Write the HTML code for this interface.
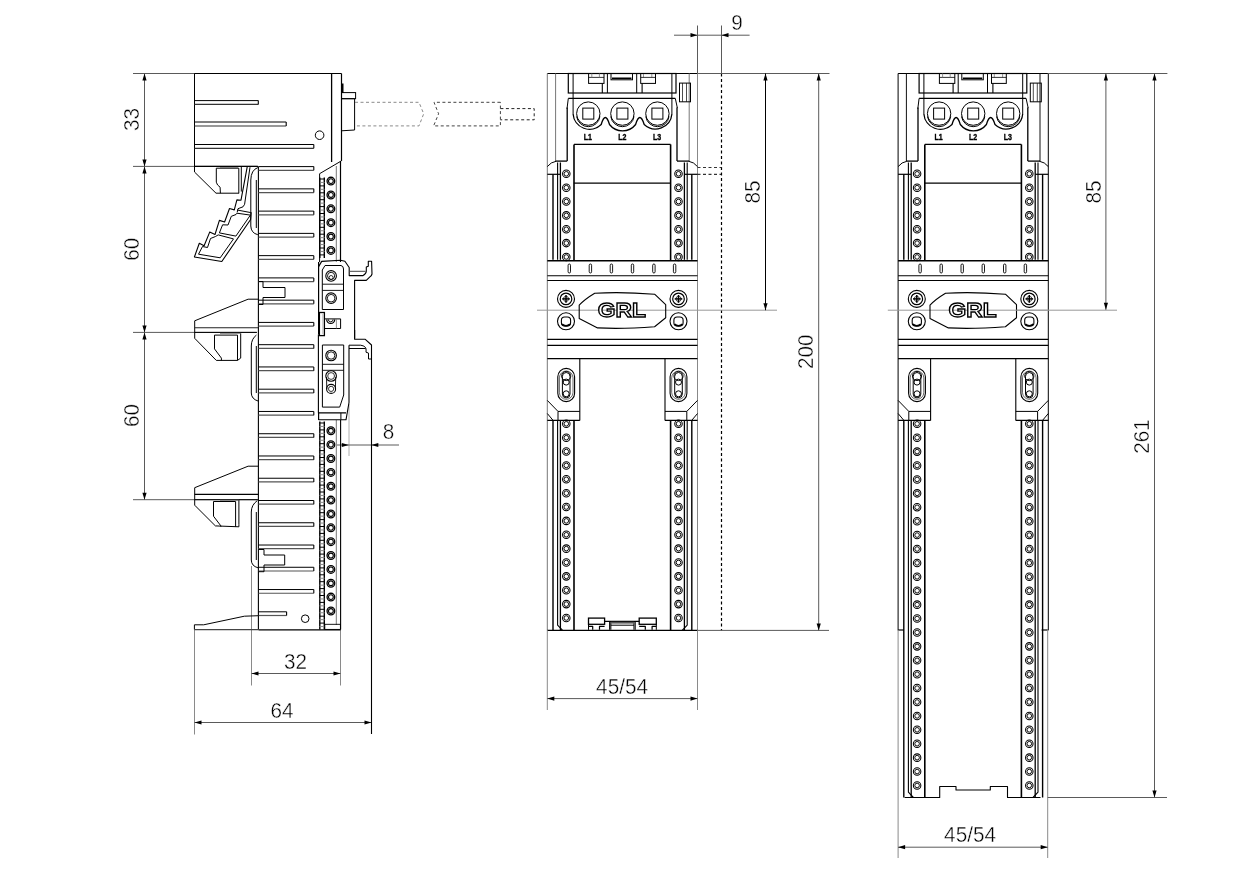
<!DOCTYPE html>
<html><head><meta charset="utf-8"><style>
html,body{margin:0;padding:0;background:#fff;width:1239px;height:869px;overflow:hidden}
svg{display:block}
text{font-family:"Liberation Sans",sans-serif}
svg{will-change:transform}
</style></head><body>
<svg width="1239" height="869" viewBox="0 0 1239 869">
<rect width="1239" height="869" fill="#fff"/>
<line x1="133" y1="73.5" x2="195" y2="73.5" stroke="#5a5a5a" stroke-width="1" />
<line x1="133" y1="166.4" x2="257" y2="166.4" stroke="#5a5a5a" stroke-width="1" />
<line x1="133" y1="332.4" x2="257" y2="332.4" stroke="#5a5a5a" stroke-width="1" />
<line x1="133" y1="499.7" x2="257" y2="499.7" stroke="#5a5a5a" stroke-width="1" />
<line x1="144.5" y1="73.5" x2="144.5" y2="499.7" stroke="#5a5a5a" stroke-width="1" />
<polygon points="144.5,73.5 142.4,80.5 146.6,80.5" fill="#000" stroke="none"/>
<polygon points="144.5,166.4 142.4,159.4 146.6,159.4" fill="#000" stroke="none"/>
<polygon points="144.5,166.4 142.4,173.4 146.6,173.4" fill="#000" stroke="none"/>
<polygon points="144.5,332.4 142.4,325.4 146.6,325.4" fill="#000" stroke="none"/>
<polygon points="144.5,332.4 142.4,339.4 146.6,339.4" fill="#000" stroke="none"/>
<polygon points="144.5,499.7 142.4,492.7 146.6,492.7" fill="#000" stroke="none"/>
<text x="0" y="0" font-size="21.9" text-anchor="middle" font-weight="normal" fill="#000" dominant-baseline="central" transform="translate(131.5 119.5) rotate(-90) scale(0.9452 1)" stroke="#fff" stroke-width="0.4">33</text>
<text x="0" y="0" font-size="21.9" text-anchor="middle" font-weight="normal" fill="#000" dominant-baseline="central" transform="translate(131.5 249.2) rotate(-90) scale(0.9452 1)" stroke="#fff" stroke-width="0.4">60</text>
<text x="0" y="0" font-size="21.9" text-anchor="middle" font-weight="normal" fill="#000" dominant-baseline="central" transform="translate(131.5 415.6) rotate(-90) scale(0.9452 1)" stroke="#fff" stroke-width="0.4">60</text>
<line x1="251.5" y1="566" x2="251.5" y2="685.5" stroke="#8a8a8a" stroke-width="1" />
<line x1="340.5" y1="630" x2="340.5" y2="685.5" stroke="#8a8a8a" stroke-width="1" />
<line x1="251.5" y1="673.5" x2="340.5" y2="673.5" stroke="#5a5a5a" stroke-width="1" />
<polygon points="251.5,673.5 258.5,671.4 258.5,675.6" fill="#000" stroke="none"/>
<polygon points="340.5,673.5 333.5,671.4 333.5,675.6" fill="#000" stroke="none"/>
<text x="0" y="0" font-size="21.9" text-anchor="middle" font-weight="normal" fill="#000" dominant-baseline="central" transform="translate(295.6 662.3) scale(0.9452 1)" stroke="#fff" stroke-width="0.4">32</text>
<line x1="194.5" y1="630" x2="194.5" y2="734.5" stroke="#8a8a8a" stroke-width="1" />
<line x1="194.5" y1="722.5" x2="371.5" y2="722.5" stroke="#5a5a5a" stroke-width="1" />
<polygon points="194.5,722.5 201.5,720.4 201.5,724.6" fill="#000" stroke="none"/>
<polygon points="371.5,722.5 364.5,720.4 364.5,724.6" fill="#000" stroke="none"/>
<text x="0" y="0" font-size="21.9" text-anchor="middle" font-weight="normal" fill="#000" dominant-baseline="central" transform="translate(282 710.7) scale(0.9452 1)" stroke="#fff" stroke-width="0.4">64</text>
<line x1="349" y1="404" x2="349" y2="456" stroke="#b0b0b0" stroke-width="1" />
<line x1="337" y1="445" x2="399" y2="445" stroke="#5a5a5a" stroke-width="1" />
<polygon points="348.8,445 341.8,442.9 341.8,447.1" fill="#000" stroke="none"/>
<polygon points="371.3,445 378.3,442.9 378.3,447.1" fill="#000" stroke="none"/>
<text x="0" y="0" font-size="21.9" text-anchor="middle" font-weight="normal" fill="#000" dominant-baseline="central" transform="translate(388.5 431.5) scale(0.9452 1)" stroke="#fff" stroke-width="0.4">8</text>
<line x1="194.5" y1="73.5" x2="341.5" y2="73.5" stroke="#000" stroke-width="1" />
<line x1="194.5" y1="73.5" x2="194.5" y2="172" stroke="#000" stroke-width="1" />
<line x1="341.5" y1="73.5" x2="341.5" y2="161" stroke="#000" stroke-width="1.2" />
<line x1="331.6" y1="73.5" x2="331.6" y2="162" stroke="#000" stroke-width="1.3" />
<line x1="194.5" y1="100.6" x2="258.3" y2="100.6" stroke="#000" stroke-width="1" />
<line x1="194.5" y1="104.4" x2="258.3" y2="104.4" stroke="#333" stroke-width="1.2" />
<line x1="258.3" y1="100.6" x2="258.3" y2="104.4" stroke="#000" stroke-width="1.1" />
<line x1="194.5" y1="122" x2="286.2" y2="122" stroke="#000" stroke-width="1" />
<line x1="194.5" y1="126" x2="286.2" y2="126" stroke="#333" stroke-width="1.2" />
<line x1="286.2" y1="122" x2="286.2" y2="126" stroke="#000" stroke-width="1.1" />
<line x1="194.5" y1="144.5" x2="313.8" y2="144.5" stroke="#000" stroke-width="1" />
<line x1="194.5" y1="148.3" x2="313.8" y2="148.3" stroke="#333" stroke-width="1.2" />
<line x1="313.8" y1="144.5" x2="313.8" y2="148.3" stroke="#000" stroke-width="1.1" />
<circle cx="319.6" cy="135.2" r="4.3" fill="none" stroke="#000" stroke-width="1" />
<rect x="341.5" y="84" width="1.5" height="8.5" rx="0" fill="#000" stroke="#000" stroke-width="1" />
<rect x="341.5" y="92.6" width="14.1" height="6.1" rx="0" fill="none" stroke="#000" stroke-width="1" />
<path d="M341.5,98.7 H354.6 V130 L341.5,130.8" fill="none" stroke="#000" stroke-width="1" stroke-linejoin="round" />
<path d="M355,102.3 H419 L423.7,113.8 L419,125.9 H355" fill="none" stroke="#8a8a8a" stroke-width="1" stroke-linejoin="round" stroke-dasharray="3,2.5"/>
<path d="M500.4,102.3 H434 L438.6,113.8 L433.6,125.9 H500.4 V102.3" fill="none" stroke="#444" stroke-width="1" stroke-linejoin="round" stroke-dasharray="3,2.5"/>
<path d="M500.4,108.6 H534.2 V119.8 H500.4" fill="none" stroke="#222" stroke-width="1" stroke-linejoin="round" stroke-dasharray="3,2.5"/>
<line x1="341.2" y1="161" x2="319.6" y2="173.7" stroke="#000" stroke-width="1" />
<line x1="340.5" y1="161" x2="340.5" y2="262" stroke="#000" stroke-width="1.2" />
<line x1="336.3" y1="166" x2="336.3" y2="262" stroke="#777" stroke-width="1" />
<line x1="258.4" y1="166.5" x2="258.4" y2="629.5" stroke="#000" stroke-width="1.1" />
<line x1="258.5" y1="166.6" x2="313.8" y2="166.6" stroke="#000" stroke-width="1" />
<line x1="258.5" y1="170.3" x2="313.8" y2="170.3" stroke="#555" stroke-width="1.2" />
<line x1="313.8" y1="166.6" x2="313.8" y2="170.3" stroke="#000" stroke-width="1.1" />
<line x1="258.5" y1="188.86" x2="313.8" y2="188.86" stroke="#000" stroke-width="1" />
<line x1="258.5" y1="192.56" x2="313.8" y2="192.56" stroke="#555" stroke-width="1.2" />
<line x1="313.8" y1="188.86" x2="313.8" y2="192.56" stroke="#000" stroke-width="1.1" />
<line x1="258.5" y1="211.12" x2="313.8" y2="211.12" stroke="#000" stroke-width="1" />
<line x1="258.5" y1="214.82" x2="313.8" y2="214.82" stroke="#555" stroke-width="1.2" />
<line x1="313.8" y1="211.12" x2="313.8" y2="214.82" stroke="#000" stroke-width="1.1" />
<line x1="258.5" y1="233.38" x2="313.8" y2="233.38" stroke="#000" stroke-width="1" />
<line x1="258.5" y1="237.08" x2="313.8" y2="237.08" stroke="#555" stroke-width="1.2" />
<line x1="313.8" y1="233.38" x2="313.8" y2="237.08" stroke="#000" stroke-width="1.1" />
<line x1="258.5" y1="255.64" x2="313.8" y2="255.64" stroke="#000" stroke-width="1" />
<line x1="258.5" y1="259.34" x2="313.8" y2="259.34" stroke="#555" stroke-width="1.2" />
<line x1="313.8" y1="255.64" x2="313.8" y2="259.34" stroke="#000" stroke-width="1.1" />
<line x1="258.5" y1="277.9" x2="313.8" y2="277.9" stroke="#000" stroke-width="1" />
<line x1="258.5" y1="281.6" x2="313.8" y2="281.6" stroke="#555" stroke-width="1.2" />
<line x1="313.8" y1="277.9" x2="313.8" y2="281.6" stroke="#000" stroke-width="1.1" />
<line x1="258.5" y1="300.16" x2="313.8" y2="300.16" stroke="#000" stroke-width="1" />
<line x1="258.5" y1="303.86" x2="313.8" y2="303.86" stroke="#555" stroke-width="1.2" />
<line x1="313.8" y1="300.16" x2="313.8" y2="303.86" stroke="#000" stroke-width="1.1" />
<line x1="258.5" y1="322.42" x2="313.8" y2="322.42" stroke="#000" stroke-width="1" />
<line x1="258.5" y1="326.12" x2="313.8" y2="326.12" stroke="#555" stroke-width="1.2" />
<line x1="313.8" y1="322.42" x2="313.8" y2="326.12" stroke="#000" stroke-width="1.1" />
<line x1="258.5" y1="344.68" x2="313.8" y2="344.68" stroke="#000" stroke-width="1" />
<line x1="258.5" y1="348.38" x2="313.8" y2="348.38" stroke="#555" stroke-width="1.2" />
<line x1="313.8" y1="344.68" x2="313.8" y2="348.38" stroke="#000" stroke-width="1.1" />
<line x1="258.5" y1="366.94" x2="313.8" y2="366.94" stroke="#000" stroke-width="1" />
<line x1="258.5" y1="370.64" x2="313.8" y2="370.64" stroke="#555" stroke-width="1.2" />
<line x1="313.8" y1="366.94" x2="313.8" y2="370.64" stroke="#000" stroke-width="1.1" />
<line x1="258.5" y1="389.2" x2="313.8" y2="389.2" stroke="#000" stroke-width="1" />
<line x1="258.5" y1="392.9" x2="313.8" y2="392.9" stroke="#555" stroke-width="1.2" />
<line x1="313.8" y1="389.2" x2="313.8" y2="392.9" stroke="#000" stroke-width="1.1" />
<line x1="258.5" y1="411.46" x2="313.8" y2="411.46" stroke="#000" stroke-width="1" />
<line x1="258.5" y1="415.16" x2="313.8" y2="415.16" stroke="#555" stroke-width="1.2" />
<line x1="313.8" y1="411.46" x2="313.8" y2="415.16" stroke="#000" stroke-width="1.1" />
<line x1="258.5" y1="433.72" x2="313.8" y2="433.72" stroke="#000" stroke-width="1" />
<line x1="258.5" y1="437.42" x2="313.8" y2="437.42" stroke="#555" stroke-width="1.2" />
<line x1="313.8" y1="433.72" x2="313.8" y2="437.42" stroke="#000" stroke-width="1.1" />
<line x1="258.5" y1="455.98" x2="313.8" y2="455.98" stroke="#000" stroke-width="1" />
<line x1="258.5" y1="459.68" x2="313.8" y2="459.68" stroke="#555" stroke-width="1.2" />
<line x1="313.8" y1="455.98" x2="313.8" y2="459.68" stroke="#000" stroke-width="1.1" />
<line x1="258.5" y1="478.24" x2="313.8" y2="478.24" stroke="#000" stroke-width="1" />
<line x1="258.5" y1="481.94" x2="313.8" y2="481.94" stroke="#555" stroke-width="1.2" />
<line x1="313.8" y1="478.24" x2="313.8" y2="481.94" stroke="#000" stroke-width="1.1" />
<line x1="258.5" y1="500.5" x2="313.8" y2="500.5" stroke="#000" stroke-width="1" />
<line x1="258.5" y1="504.2" x2="313.8" y2="504.2" stroke="#555" stroke-width="1.2" />
<line x1="313.8" y1="500.5" x2="313.8" y2="504.2" stroke="#000" stroke-width="1.1" />
<line x1="258.5" y1="522.76" x2="313.8" y2="522.76" stroke="#000" stroke-width="1" />
<line x1="258.5" y1="526.46" x2="313.8" y2="526.46" stroke="#555" stroke-width="1.2" />
<line x1="313.8" y1="522.76" x2="313.8" y2="526.46" stroke="#000" stroke-width="1.1" />
<line x1="258.5" y1="545.02" x2="313.8" y2="545.02" stroke="#000" stroke-width="1" />
<line x1="258.5" y1="548.72" x2="313.8" y2="548.72" stroke="#555" stroke-width="1.2" />
<line x1="313.8" y1="545.02" x2="313.8" y2="548.72" stroke="#000" stroke-width="1.1" />
<line x1="258.5" y1="567.28" x2="313.8" y2="567.28" stroke="#000" stroke-width="1" />
<line x1="258.5" y1="570.98" x2="313.8" y2="570.98" stroke="#555" stroke-width="1.2" />
<line x1="313.8" y1="567.28" x2="313.8" y2="570.98" stroke="#000" stroke-width="1.1" />
<line x1="258.5" y1="589.54" x2="313.8" y2="589.54" stroke="#000" stroke-width="1" />
<line x1="258.5" y1="593.24" x2="313.8" y2="593.24" stroke="#555" stroke-width="1.2" />
<line x1="313.8" y1="589.54" x2="313.8" y2="593.24" stroke="#000" stroke-width="1.1" />
<line x1="258.5" y1="611.8" x2="286.6" y2="611.8" stroke="#000" stroke-width="1" />
<line x1="258.5" y1="615.5" x2="286.6" y2="615.5" stroke="#555" stroke-width="1.2" />
<line x1="286.6" y1="611.8" x2="286.6" y2="615.5" stroke="#000" stroke-width="1.1" />
<path d="M258.5,281.5 H263 V287.5 H285 V297.5 H263 V304.5 H258.5" fill="none" stroke="#000" stroke-width="1" stroke-linejoin="round" />
<path d="M258.5,549.5 H264 V555 H284.7 V565 H264 V571.7 H258.5" fill="none" stroke="#000" stroke-width="1" stroke-linejoin="round" />
<circle cx="305.2" cy="618.7" r="3.8" fill="none" stroke="#000" stroke-width="1" />
<line x1="319.8" y1="177.5" x2="319.8" y2="258" stroke="#000" stroke-width="1.4" />
<line x1="324.3" y1="177.5" x2="324.3" y2="258" stroke="#000" stroke-width="1.4" />
<line x1="319.6" y1="179" x2="324.5" y2="179" stroke="#000" stroke-width="1" />
<line x1="319.6" y1="182.45" x2="324.5" y2="182.45" stroke="#888" stroke-width="1" />
<line x1="319.6" y1="185.9" x2="324.5" y2="185.9" stroke="#000" stroke-width="1" />
<line x1="319.6" y1="189.35" x2="324.5" y2="189.35" stroke="#888" stroke-width="1" />
<line x1="319.6" y1="192.8" x2="324.5" y2="192.8" stroke="#000" stroke-width="1" />
<line x1="319.6" y1="196.25" x2="324.5" y2="196.25" stroke="#888" stroke-width="1" />
<line x1="319.6" y1="199.7" x2="324.5" y2="199.7" stroke="#000" stroke-width="1" />
<line x1="319.6" y1="203.15" x2="324.5" y2="203.15" stroke="#888" stroke-width="1" />
<line x1="319.6" y1="206.6" x2="324.5" y2="206.6" stroke="#000" stroke-width="1" />
<line x1="319.6" y1="210.05" x2="324.5" y2="210.05" stroke="#888" stroke-width="1" />
<line x1="319.6" y1="213.5" x2="324.5" y2="213.5" stroke="#000" stroke-width="1" />
<line x1="319.6" y1="216.95" x2="324.5" y2="216.95" stroke="#888" stroke-width="1" />
<line x1="319.6" y1="220.4" x2="324.5" y2="220.4" stroke="#000" stroke-width="1" />
<line x1="319.6" y1="223.85" x2="324.5" y2="223.85" stroke="#888" stroke-width="1" />
<line x1="319.6" y1="227.3" x2="324.5" y2="227.3" stroke="#000" stroke-width="1" />
<line x1="319.6" y1="230.75" x2="324.5" y2="230.75" stroke="#888" stroke-width="1" />
<line x1="319.6" y1="234.2" x2="324.5" y2="234.2" stroke="#000" stroke-width="1" />
<line x1="319.6" y1="237.65" x2="324.5" y2="237.65" stroke="#888" stroke-width="1" />
<line x1="319.6" y1="241.1" x2="324.5" y2="241.1" stroke="#000" stroke-width="1" />
<line x1="319.6" y1="244.55" x2="324.5" y2="244.55" stroke="#888" stroke-width="1" />
<line x1="319.6" y1="248" x2="324.5" y2="248" stroke="#000" stroke-width="1" />
<line x1="319.6" y1="251.45" x2="324.5" y2="251.45" stroke="#888" stroke-width="1" />
<line x1="319.6" y1="254.9" x2="324.5" y2="254.9" stroke="#000" stroke-width="1" />
<circle cx="330.9" cy="181.1" r="3.85" fill="none" stroke="#000" stroke-width="1.3" />
<circle cx="330.9" cy="181.1" r="2.4" fill="none" stroke="#000" stroke-width="1.1" />
<circle cx="330.9" cy="194.96" r="3.85" fill="none" stroke="#000" stroke-width="1.3" />
<circle cx="330.9" cy="194.96" r="2.4" fill="none" stroke="#000" stroke-width="1.1" />
<circle cx="330.9" cy="208.82" r="3.85" fill="none" stroke="#000" stroke-width="1.3" />
<circle cx="330.9" cy="208.82" r="2.4" fill="none" stroke="#000" stroke-width="1.1" />
<circle cx="330.9" cy="222.68" r="3.85" fill="none" stroke="#000" stroke-width="1.3" />
<circle cx="330.9" cy="222.68" r="2.4" fill="none" stroke="#000" stroke-width="1.1" />
<circle cx="330.9" cy="236.54" r="3.85" fill="none" stroke="#000" stroke-width="1.3" />
<circle cx="330.9" cy="236.54" r="2.4" fill="none" stroke="#000" stroke-width="1.1" />
<circle cx="330.9" cy="250.4" r="3.85" fill="none" stroke="#000" stroke-width="1.3" />
<circle cx="330.9" cy="250.4" r="2.4" fill="none" stroke="#000" stroke-width="1.1" />
<line x1="319.6" y1="173.7" x2="319.6" y2="262" stroke="#000" stroke-width="1" />
<line x1="319.8" y1="421.5" x2="319.8" y2="629.4" stroke="#000" stroke-width="1.4" />
<line x1="324.3" y1="421.5" x2="324.3" y2="629.4" stroke="#000" stroke-width="1.4" />
<line x1="319.6" y1="423" x2="324.5" y2="423" stroke="#000" stroke-width="1" />
<line x1="319.6" y1="426.45" x2="324.5" y2="426.45" stroke="#888" stroke-width="1" />
<line x1="319.6" y1="429.9" x2="324.5" y2="429.9" stroke="#000" stroke-width="1" />
<line x1="319.6" y1="433.35" x2="324.5" y2="433.35" stroke="#888" stroke-width="1" />
<line x1="319.6" y1="436.8" x2="324.5" y2="436.8" stroke="#000" stroke-width="1" />
<line x1="319.6" y1="440.25" x2="324.5" y2="440.25" stroke="#888" stroke-width="1" />
<line x1="319.6" y1="443.7" x2="324.5" y2="443.7" stroke="#000" stroke-width="1" />
<line x1="319.6" y1="447.15" x2="324.5" y2="447.15" stroke="#888" stroke-width="1" />
<line x1="319.6" y1="450.6" x2="324.5" y2="450.6" stroke="#000" stroke-width="1" />
<line x1="319.6" y1="454.05" x2="324.5" y2="454.05" stroke="#888" stroke-width="1" />
<line x1="319.6" y1="457.5" x2="324.5" y2="457.5" stroke="#000" stroke-width="1" />
<line x1="319.6" y1="460.95" x2="324.5" y2="460.95" stroke="#888" stroke-width="1" />
<line x1="319.6" y1="464.4" x2="324.5" y2="464.4" stroke="#000" stroke-width="1" />
<line x1="319.6" y1="467.85" x2="324.5" y2="467.85" stroke="#888" stroke-width="1" />
<line x1="319.6" y1="471.3" x2="324.5" y2="471.3" stroke="#000" stroke-width="1" />
<line x1="319.6" y1="474.75" x2="324.5" y2="474.75" stroke="#888" stroke-width="1" />
<line x1="319.6" y1="478.2" x2="324.5" y2="478.2" stroke="#000" stroke-width="1" />
<line x1="319.6" y1="481.65" x2="324.5" y2="481.65" stroke="#888" stroke-width="1" />
<line x1="319.6" y1="485.1" x2="324.5" y2="485.1" stroke="#000" stroke-width="1" />
<line x1="319.6" y1="488.55" x2="324.5" y2="488.55" stroke="#888" stroke-width="1" />
<line x1="319.6" y1="492" x2="324.5" y2="492" stroke="#000" stroke-width="1" />
<line x1="319.6" y1="495.45" x2="324.5" y2="495.45" stroke="#888" stroke-width="1" />
<line x1="319.6" y1="498.9" x2="324.5" y2="498.9" stroke="#000" stroke-width="1" />
<line x1="319.6" y1="502.35" x2="324.5" y2="502.35" stroke="#888" stroke-width="1" />
<line x1="319.6" y1="505.8" x2="324.5" y2="505.8" stroke="#000" stroke-width="1" />
<line x1="319.6" y1="509.25" x2="324.5" y2="509.25" stroke="#888" stroke-width="1" />
<line x1="319.6" y1="512.7" x2="324.5" y2="512.7" stroke="#000" stroke-width="1" />
<line x1="319.6" y1="516.15" x2="324.5" y2="516.15" stroke="#888" stroke-width="1" />
<line x1="319.6" y1="519.6" x2="324.5" y2="519.6" stroke="#000" stroke-width="1" />
<line x1="319.6" y1="523.05" x2="324.5" y2="523.05" stroke="#888" stroke-width="1" />
<line x1="319.6" y1="526.5" x2="324.5" y2="526.5" stroke="#000" stroke-width="1" />
<line x1="319.6" y1="529.95" x2="324.5" y2="529.95" stroke="#888" stroke-width="1" />
<line x1="319.6" y1="533.4" x2="324.5" y2="533.4" stroke="#000" stroke-width="1" />
<line x1="319.6" y1="536.85" x2="324.5" y2="536.85" stroke="#888" stroke-width="1" />
<line x1="319.6" y1="540.3" x2="324.5" y2="540.3" stroke="#000" stroke-width="1" />
<line x1="319.6" y1="543.75" x2="324.5" y2="543.75" stroke="#888" stroke-width="1" />
<line x1="319.6" y1="547.2" x2="324.5" y2="547.2" stroke="#000" stroke-width="1" />
<line x1="319.6" y1="550.65" x2="324.5" y2="550.65" stroke="#888" stroke-width="1" />
<line x1="319.6" y1="554.1" x2="324.5" y2="554.1" stroke="#000" stroke-width="1" />
<line x1="319.6" y1="557.55" x2="324.5" y2="557.55" stroke="#888" stroke-width="1" />
<line x1="319.6" y1="561" x2="324.5" y2="561" stroke="#000" stroke-width="1" />
<line x1="319.6" y1="564.45" x2="324.5" y2="564.45" stroke="#888" stroke-width="1" />
<line x1="319.6" y1="567.9" x2="324.5" y2="567.9" stroke="#000" stroke-width="1" />
<line x1="319.6" y1="571.35" x2="324.5" y2="571.35" stroke="#888" stroke-width="1" />
<line x1="319.6" y1="574.8" x2="324.5" y2="574.8" stroke="#000" stroke-width="1" />
<line x1="319.6" y1="578.25" x2="324.5" y2="578.25" stroke="#888" stroke-width="1" />
<line x1="319.6" y1="581.7" x2="324.5" y2="581.7" stroke="#000" stroke-width="1" />
<line x1="319.6" y1="585.15" x2="324.5" y2="585.15" stroke="#888" stroke-width="1" />
<line x1="319.6" y1="588.6" x2="324.5" y2="588.6" stroke="#000" stroke-width="1" />
<line x1="319.6" y1="592.05" x2="324.5" y2="592.05" stroke="#888" stroke-width="1" />
<line x1="319.6" y1="595.5" x2="324.5" y2="595.5" stroke="#000" stroke-width="1" />
<line x1="319.6" y1="598.95" x2="324.5" y2="598.95" stroke="#888" stroke-width="1" />
<line x1="319.6" y1="602.4" x2="324.5" y2="602.4" stroke="#000" stroke-width="1" />
<line x1="319.6" y1="605.85" x2="324.5" y2="605.85" stroke="#888" stroke-width="1" />
<line x1="319.6" y1="609.3" x2="324.5" y2="609.3" stroke="#000" stroke-width="1" />
<line x1="319.6" y1="612.75" x2="324.5" y2="612.75" stroke="#888" stroke-width="1" />
<line x1="319.6" y1="616.2" x2="324.5" y2="616.2" stroke="#000" stroke-width="1" />
<line x1="319.6" y1="619.65" x2="324.5" y2="619.65" stroke="#888" stroke-width="1" />
<line x1="319.6" y1="623.1" x2="324.5" y2="623.1" stroke="#000" stroke-width="1" />
<line x1="319.6" y1="626.55" x2="324.5" y2="626.55" stroke="#888" stroke-width="1" />
<circle cx="330.9" cy="430.8" r="3.85" fill="none" stroke="#000" stroke-width="1.3" />
<circle cx="330.9" cy="430.8" r="2.4" fill="none" stroke="#000" stroke-width="1.1" />
<circle cx="330.9" cy="444.66" r="3.85" fill="none" stroke="#000" stroke-width="1.3" />
<circle cx="330.9" cy="444.66" r="2.4" fill="none" stroke="#000" stroke-width="1.1" />
<circle cx="330.9" cy="458.52" r="3.85" fill="none" stroke="#000" stroke-width="1.3" />
<circle cx="330.9" cy="458.52" r="2.4" fill="none" stroke="#000" stroke-width="1.1" />
<circle cx="330.9" cy="472.38" r="3.85" fill="none" stroke="#000" stroke-width="1.3" />
<circle cx="330.9" cy="472.38" r="2.4" fill="none" stroke="#000" stroke-width="1.1" />
<circle cx="330.9" cy="486.24" r="3.85" fill="none" stroke="#000" stroke-width="1.3" />
<circle cx="330.9" cy="486.24" r="2.4" fill="none" stroke="#000" stroke-width="1.1" />
<circle cx="330.9" cy="500.1" r="3.85" fill="none" stroke="#000" stroke-width="1.3" />
<circle cx="330.9" cy="500.1" r="2.4" fill="none" stroke="#000" stroke-width="1.1" />
<circle cx="330.9" cy="513.96" r="3.85" fill="none" stroke="#000" stroke-width="1.3" />
<circle cx="330.9" cy="513.96" r="2.4" fill="none" stroke="#000" stroke-width="1.1" />
<circle cx="330.9" cy="527.82" r="3.85" fill="none" stroke="#000" stroke-width="1.3" />
<circle cx="330.9" cy="527.82" r="2.4" fill="none" stroke="#000" stroke-width="1.1" />
<circle cx="330.9" cy="541.68" r="3.85" fill="none" stroke="#000" stroke-width="1.3" />
<circle cx="330.9" cy="541.68" r="2.4" fill="none" stroke="#000" stroke-width="1.1" />
<circle cx="330.9" cy="555.54" r="3.85" fill="none" stroke="#000" stroke-width="1.3" />
<circle cx="330.9" cy="555.54" r="2.4" fill="none" stroke="#000" stroke-width="1.1" />
<circle cx="330.9" cy="569.4" r="3.85" fill="none" stroke="#000" stroke-width="1.3" />
<circle cx="330.9" cy="569.4" r="2.4" fill="none" stroke="#000" stroke-width="1.1" />
<circle cx="330.9" cy="583.26" r="3.85" fill="none" stroke="#000" stroke-width="1.3" />
<circle cx="330.9" cy="583.26" r="2.4" fill="none" stroke="#000" stroke-width="1.1" />
<circle cx="330.9" cy="597.12" r="3.85" fill="none" stroke="#000" stroke-width="1.3" />
<circle cx="330.9" cy="597.12" r="2.4" fill="none" stroke="#000" stroke-width="1.1" />
<circle cx="330.9" cy="610.98" r="3.85" fill="none" stroke="#000" stroke-width="1.3" />
<circle cx="330.9" cy="610.98" r="2.4" fill="none" stroke="#000" stroke-width="1.1" />
<line x1="318.6" y1="412" x2="318.6" y2="420" stroke="#000" stroke-width="1.2" />
<line x1="336.3" y1="420" x2="336.3" y2="625" stroke="#777" stroke-width="1" />
<line x1="340.6" y1="420" x2="340.6" y2="629.5" stroke="#000" stroke-width="1.1" />
<rect x="324.8" y="624.3" width="15.6" height="5.1" rx="0" fill="none" stroke="#000" stroke-width="0.9" />
<line x1="194.4" y1="629.7" x2="258.6" y2="629.7" stroke="#444" stroke-width="1.2" />
<line x1="258.6" y1="629.9" x2="340.6" y2="629.9" stroke="#000" stroke-width="1.2" />
<polyline points="258.6,615.7 244.4,616.2 203.7,624.8 194.4,624.8 194.4,629.5" fill="none" stroke="#000" stroke-width="1" stroke-linejoin="round" />
<polyline points="194.5,172 216,193.2 239.1,193.2" fill="none" stroke="#000" stroke-width="1" stroke-linejoin="round" />
<line x1="194.5" y1="166.3" x2="194.5" y2="172" stroke="#000" stroke-width="1" />
<path d="M216.3,168.2 H238.8 V193.2 M216.3,168.2 V182.2 Q217,185.3 220.1,187.2 L220.4,193.2" fill="none" stroke="#000" stroke-width="1" stroke-linejoin="round" />
<line x1="241.3" y1="167" x2="241.3" y2="191.6" stroke="#000" stroke-width="1" />
<line x1="220" y1="167.5" x2="238" y2="167.5" stroke="#666" stroke-width="0.7" />
<line x1="194.5" y1="166.3" x2="258" y2="166.3" stroke="#000" stroke-width="1.2" />
<polyline points="247.3,166.3 241,200.2 236.9,199.9 234.3,209.9 229.5,208.5 224.6,222 219.4,220.4 215,234.5 209.7,232.1 204.1,245.7 199.3,243.3 194.4,257 221.8,261.5 250.6,219.5 251.2,212.3" fill="none" stroke="#000" stroke-width="1.1" stroke-linejoin="round" />
<polyline points="250,167.2 244.6,204.3 243,206.8 238,208.7 237.2,212.3" fill="none" stroke="#000" stroke-width="1" stroke-linejoin="round" />
<polyline points="237.2,210 250.8,212.6" fill="none" stroke="#000" stroke-width="1" stroke-linejoin="round" />
<polygon points="250.4,215.1 236.9,213.2 236,214.5 231.3,216.3 228,225 222.6,224.8 219.4,232.9 235.9,236.1 250.4,215.1" fill="none" stroke="#000" stroke-width="1" stroke-linejoin="round" />
<polygon points="233.5,238.9 218.2,234.9 215.5,236.5 210.5,238.5 207.5,247.5 202.5,246.5 198.5,254.2 220.2,257.8 233.5,238.9" fill="none" stroke="#000" stroke-width="1" stroke-linejoin="round" />
<path d="M257.8,167.6 Q251,170 250.8,180 V226 Q251,233 257.8,234.7" fill="none" stroke="#000" stroke-width="1" stroke-linejoin="round" />
<line x1="256.3" y1="180" x2="256.3" y2="228" stroke="#000" stroke-width="1" />
<polyline points="258.2,299.2 248.1,299.2 194.7,320.8 194.7,338.3 216.3,360.4 237.5,360.4 240.7,358.1 240.7,333.3" fill="none" stroke="#000" stroke-width="1" stroke-linejoin="round" />
<line x1="194.7" y1="327.8" x2="258.2" y2="327.8" stroke="#222" stroke-width="1.1" />
<line x1="194.7" y1="332.4" x2="256.8" y2="332.4" stroke="#000" stroke-width="1" />
<path d="M214.5,335.1 H237.5 V360.4 M214.5,335.1 V348.9 L221.4,358.1 V360.4" fill="none" stroke="#000" stroke-width="1" stroke-linejoin="round" />
<line x1="220" y1="333.3" x2="240.7" y2="333.3" stroke="#555" stroke-width="0.8" />
<path d="M256.4,335.1 Q251.3,339 251.3,346 V393 Q251.5,399 258,401" fill="none" stroke="#000" stroke-width="1" stroke-linejoin="round" />
<line x1="256.3" y1="346" x2="256.3" y2="393" stroke="#000" stroke-width="1" />
<polyline points="258.2,466.2 248.1,466.2 194.7,487.7 194.7,505.2 215.4,525.9 238.9,526.8 238.9,524.5 238.9,500.1" fill="none" stroke="#000" stroke-width="1" stroke-linejoin="round" />
<line x1="194.7" y1="494.4" x2="258.2" y2="494.4" stroke="#000" stroke-width="1.2" />
<line x1="194.7" y1="499.7" x2="258.2" y2="499.7" stroke="#000" stroke-width="1" />
<path d="M213.5,501.5 H235.6 V526.8 M213.5,501.5 V516.2 L220.9,525.9 V526.8" fill="none" stroke="#000" stroke-width="1" stroke-linejoin="round" />
<line x1="220" y1="500.1" x2="238.9" y2="500.1" stroke="#555" stroke-width="0.8" />
<path d="M257.3,500.6 Q251.3,505 251.3,512 V560 Q251.4,566 258,567.8" fill="none" stroke="#000" stroke-width="1" stroke-linejoin="round" />
<line x1="256.3" y1="512" x2="256.3" y2="560" stroke="#000" stroke-width="1" />
<path d="M318.6,266.6 L321.7,261.4 L340.5,260.2 L344.9,261.3 L349.2,267.5 V275.6 H363.1 Q366.3,274 366.3,271.1 V267.1 L368.3,266.3 V261.3 H371.6 L372,274 Q371.5,276 370.4,276.4 L366.3,280.4 H354.6 V339.3 H365.3 L371.5,345 V734" fill="none" stroke="#000" stroke-width="1.1" stroke-linejoin="round" />
<line x1="349.2" y1="271.3" x2="365.5" y2="271.3" stroke="#444" stroke-width="1" />
<path d="M322.3,270 L325,265.5 H341 Q343.5,266 343.5,269 V309.5 H322.3 Z" fill="none" stroke="#000" stroke-width="1" stroke-linejoin="round" />
<line x1="322.3" y1="284.2" x2="343.5" y2="284.2" stroke="#000" stroke-width="0.9" />
<line x1="322.3" y1="290.4" x2="343.5" y2="290.4" stroke="#000" stroke-width="0.9" />
<circle cx="331.1" cy="275.9" r="5.3" fill="none" stroke="#000" stroke-width="1.1" />
<circle cx="331.1" cy="275.9" r="3.6" fill="none" stroke="#000" stroke-width="0.9" />
<circle cx="331.1" cy="277.5" r="2" fill="none" stroke="#000" stroke-width="0.8" />
<circle cx="331.1" cy="298.2" r="5.3" fill="none" stroke="#000" stroke-width="1.1" />
<circle cx="331.1" cy="298.2" r="3.8" fill="none" stroke="#000" stroke-width="0.9" />
<rect x="319.4" y="312.5" width="5" height="23.1" rx="0" fill="none" stroke="#000" stroke-width="1.3" />
<line x1="322.6" y1="314" x2="322.6" y2="334" stroke="#aaa" stroke-width="0.6" />
<path d="M324.4,318.9 H340.6 V328.5 H324.4" fill="none" stroke="#000" stroke-width="1" stroke-linejoin="round" />
<line x1="336.4" y1="318.9" x2="336.4" y2="328.5" stroke="#777" stroke-width="0.8" />
<path d="M326.7,319.4 A4,4 0 0 0 334.7,319.4" fill="none" stroke="#000" stroke-width="1.3" stroke-linejoin="round" />
<path d="M328.3,319.4 A2.4,2.4 0 0 0 333.1,319.4" fill="none" stroke="#000" stroke-width="0.9" stroke-linejoin="round" />
<line x1="318.6" y1="262" x2="318.6" y2="334.6" stroke="#000" stroke-width="1.2" />
<path d="M318.4,334.6 V412.9 H346" fill="none" stroke="#000" stroke-width="1.1" stroke-linejoin="round" />
<path d="M349,345.2 H360.7 Q364.5,345.5 365.8,348 Q366.3,350 366,352.2 L368.5,353.1 V359 H371.5" fill="none" stroke="#000" stroke-width="1" stroke-linejoin="round" />
<line x1="349" y1="348.5" x2="365.5" y2="348.5" stroke="#000" stroke-width="1" />
<path d="M349,345.2 V402.5 L346,419.8 H318.6" fill="none" stroke="#000" stroke-width="1.1" stroke-linejoin="round" />
<path d="M322.4,345 H343.7 V395 L339.7,407.1 H322.4 Z" fill="none" stroke="#000" stroke-width="1" stroke-linejoin="round" />
<line x1="322.4" y1="364.3" x2="343.7" y2="364.3" stroke="#000" stroke-width="0.9" />
<line x1="322.4" y1="370.3" x2="343.7" y2="370.3" stroke="#000" stroke-width="0.9" />
<circle cx="331.1" cy="355.5" r="5.3" fill="none" stroke="#000" stroke-width="1.1" />
<circle cx="331.1" cy="355.5" r="3.7" fill="none" stroke="#000" stroke-width="0.9" />
<circle cx="331.1" cy="376" r="5.3" fill="none" stroke="#000" stroke-width="1.1" />
<circle cx="331.1" cy="376" r="3.4" fill="none" stroke="#000" stroke-width="0.8" />
<circle cx="331.1" cy="388.9" r="4.5" fill="none" stroke="#000" stroke-width="1.1" />
<circle cx="331.1" cy="388.9" r="2.6" fill="none" stroke="#000" stroke-width="0.8" />
<line x1="326.5" y1="377" x2="326.8" y2="388.9" stroke="#000" stroke-width="0.9" />
<line x1="335.7" y1="377" x2="335.4" y2="388.9" stroke="#000" stroke-width="0.9" />
<line x1="340.9" y1="412.9" x2="340.9" y2="419.8" stroke="#000" stroke-width="1" />
<line x1="354.7" y1="330" x2="354.7" y2="338.6" stroke="#000" stroke-width="1" />
<line x1="547.3" y1="73.5" x2="697.5" y2="73.5" stroke="#000" stroke-width="1" />
<line x1="547.3" y1="73.5" x2="547.3" y2="630.4" stroke="#777" stroke-width="1" />
<line x1="697.5" y1="73.5" x2="697.5" y2="630.4" stroke="#888" stroke-width="1" />
<line x1="555.6" y1="73.5" x2="555.6" y2="161.1" stroke="#777" stroke-width="1" />
<line x1="689.2" y1="73.5" x2="689.2" y2="161.1" stroke="#777" stroke-width="1" />
<line x1="567.2" y1="107.5" x2="567.2" y2="161.1" stroke="#000" stroke-width="1.3" />
<line x1="677" y1="107.5" x2="677" y2="161.1" stroke="#000" stroke-width="1.3" />
<line x1="555.6" y1="161.1" x2="567.2" y2="161.1" stroke="#000" stroke-width="1.3" />
<line x1="677" y1="161.1" x2="689.2" y2="161.1" stroke="#000" stroke-width="1.3" />
<path d="M547.3,166.6 Q551,162 556,161.3" fill="none" stroke="#000" stroke-width="1" stroke-linejoin="round" />
<path d="M697.5,166.6 Q693.8,162 688.8,161.3" fill="none" stroke="#000" stroke-width="1" stroke-linejoin="round" />
<line x1="547.3" y1="174.3" x2="560.3" y2="174.3" stroke="#000" stroke-width="1.2" />
<line x1="684.5" y1="174.3" x2="697.5" y2="174.3" stroke="#000" stroke-width="1.2" />
<line x1="553" y1="174.3" x2="553" y2="259.8" stroke="#000" stroke-width="1.4" />
<line x1="557.6" y1="162.5" x2="557.6" y2="259.8" stroke="#000" stroke-width="1.1" />
<line x1="560.4" y1="162.5" x2="560.4" y2="259.8" stroke="#000" stroke-width="1.3" />
<line x1="691.8" y1="174.3" x2="691.8" y2="259.8" stroke="#000" stroke-width="1.4" />
<line x1="687.2" y1="162.5" x2="687.2" y2="259.8" stroke="#000" stroke-width="1.1" />
<line x1="684.4" y1="162.5" x2="684.4" y2="259.8" stroke="#000" stroke-width="1.3" />
<rect x="568.3" y="73.5" width="107.7" height="19.5" rx="0" fill="none" stroke="#000" stroke-width="1.2" />
<line x1="573.1" y1="73.5" x2="573.1" y2="93" stroke="#000" stroke-width="1" />
<line x1="607.4" y1="73.5" x2="607.4" y2="93" stroke="#000" stroke-width="1" />
<line x1="636.7" y1="73.5" x2="636.7" y2="93" stroke="#000" stroke-width="1" />
<line x1="671.9" y1="73.5" x2="671.9" y2="93" stroke="#000" stroke-width="1" />
<line x1="602.3" y1="83.4" x2="602.3" y2="93" stroke="#000" stroke-width="1.1" />
<line x1="642.1" y1="83.4" x2="642.1" y2="93" stroke="#000" stroke-width="1.1" />
<rect x="588.6" y="73.5" width="15.4" height="9.9" rx="0" fill="none" stroke="#000" stroke-width="1" />
<line x1="588.6" y1="77.4" x2="604" y2="77.4" stroke="#000" stroke-width="0.8" />
<line x1="591.8" y1="73.5" x2="591.8" y2="77.4" stroke="#777" stroke-width="0.8" />
<line x1="599.4" y1="73.5" x2="599.4" y2="77.4" stroke="#777" stroke-width="0.8" />
<line x1="643.5" y1="73.5" x2="643.5" y2="77.4" stroke="#777" stroke-width="0.8" />
<line x1="651.8" y1="73.5" x2="651.8" y2="77.4" stroke="#777" stroke-width="0.8" />
<rect x="611" y="73.5" width="21.5" height="6.3" rx="0" fill="none" stroke="#000" stroke-width="1" />
<line x1="612" y1="78.3" x2="631.5" y2="78.3" stroke="#000" stroke-width="1.6" />
<rect x="640.7" y="73.5" width="14.8" height="9.9" rx="0" fill="none" stroke="#000" stroke-width="1" />
<line x1="640.7" y1="77.4" x2="655.5" y2="77.4" stroke="#000" stroke-width="0.8" />
<rect x="679.5" y="83.1" width="11" height="18.7" rx="0" fill="none" stroke="#000" stroke-width="1" />
<line x1="682.5" y1="83.1" x2="682.5" y2="101.8" stroke="#000" stroke-width="0.7" />
<line x1="686.5" y1="83.1" x2="686.5" y2="101.8" stroke="#000" stroke-width="0.7" />
<line x1="568.3" y1="98.4" x2="675.3" y2="98.4" stroke="#000" stroke-width="1.3" />
<line x1="568.3" y1="98.4" x2="567" y2="108.8" stroke="#000" stroke-width="1" />
<line x1="675.3" y1="98.4" x2="677.4" y2="108.1" stroke="#000" stroke-width="1" />
<line x1="573.1" y1="93" x2="573.1" y2="114" stroke="#000" stroke-width="1" />
<line x1="671.9" y1="93" x2="671.9" y2="114" stroke="#000" stroke-width="1" />
<circle cx="588.3" cy="113.6" r="11.7" fill="none" stroke="#000" stroke-width="1" />
<rect x="582.8" y="108.1" width="11" height="11" rx="0" fill="none" stroke="#000" stroke-width="1" />
<path d="M576.7,116.5 A11.7,11.7 0 0 0 599.9,116.5" fill="none" stroke="#000" stroke-width="1" stroke-linejoin="round" />
<circle cx="622.4" cy="113.6" r="11.7" fill="none" stroke="#000" stroke-width="1" />
<rect x="616.9" y="108.1" width="11" height="11" rx="0" fill="none" stroke="#000" stroke-width="1" />
<path d="M610.8,116.5 A11.7,11.7 0 0 0 634,116.5" fill="none" stroke="#000" stroke-width="1" stroke-linejoin="round" />
<circle cx="657.4" cy="113.6" r="11.7" fill="none" stroke="#000" stroke-width="1" />
<rect x="651.9" y="108.1" width="11" height="11" rx="0" fill="none" stroke="#000" stroke-width="1" />
<path d="M645.8,116.5 A11.7,11.7 0 0 0 669,116.5" fill="none" stroke="#000" stroke-width="1" stroke-linejoin="round" />
<path d="M573.1,114 A16.5,16.5 0 0 0 601.2,124.5 Q605.3,110.5 609.5,124.5 A16.5,16.5 0 0 0 635.6,124.5 Q639.8,110.5 644.2,124.5 A16.5,16.5 0 0 0 671.9,114" fill="none" stroke="#000" stroke-width="1.3" stroke-linejoin="round" />
<text x="587.8" y="137.4" font-size="8.8" text-anchor="middle" font-weight="bold" fill="#000" dominant-baseline="central" textLength="8.2" lengthAdjust="spacingAndGlyphs" stroke="#000" stroke-width="0.35">L1</text>
<text x="622.3" y="137.4" font-size="8.8" text-anchor="middle" font-weight="bold" fill="#000" dominant-baseline="central" textLength="8.2" lengthAdjust="spacingAndGlyphs" stroke="#000" stroke-width="0.35">L2</text>
<text x="657" y="137.4" font-size="8.8" text-anchor="middle" font-weight="bold" fill="#000" dominant-baseline="central" textLength="8.2" lengthAdjust="spacingAndGlyphs" stroke="#000" stroke-width="0.35">L3</text>
<line x1="574" y1="144.4" x2="670.6" y2="144.4" stroke="#000" stroke-width="1.4" />
<line x1="574" y1="144.4" x2="574" y2="260.5" stroke="#000" stroke-width="1.6" />
<line x1="670.6" y1="144.4" x2="670.6" y2="260.5" stroke="#000" stroke-width="1.6" />
<line x1="573.8" y1="183.1" x2="670.8" y2="183.1" stroke="#000" stroke-width="1.3" />
<circle cx="566.3" cy="173.8" r="3.75" fill="none" stroke="#000" stroke-width="1.05" />
<circle cx="566.3" cy="173.8" r="2.3" fill="none" stroke="#000" stroke-width="0.95" />
<circle cx="678.5" cy="173.8" r="3.75" fill="none" stroke="#000" stroke-width="1.05" />
<circle cx="678.5" cy="173.8" r="2.3" fill="none" stroke="#000" stroke-width="0.95" />
<circle cx="566.3" cy="187.66" r="3.75" fill="none" stroke="#000" stroke-width="1.05" />
<circle cx="566.3" cy="187.66" r="2.3" fill="none" stroke="#000" stroke-width="0.95" />
<circle cx="678.5" cy="187.66" r="3.75" fill="none" stroke="#000" stroke-width="1.05" />
<circle cx="678.5" cy="187.66" r="2.3" fill="none" stroke="#000" stroke-width="0.95" />
<circle cx="566.3" cy="201.52" r="3.75" fill="none" stroke="#000" stroke-width="1.05" />
<circle cx="566.3" cy="201.52" r="2.3" fill="none" stroke="#000" stroke-width="0.95" />
<circle cx="678.5" cy="201.52" r="3.75" fill="none" stroke="#000" stroke-width="1.05" />
<circle cx="678.5" cy="201.52" r="2.3" fill="none" stroke="#000" stroke-width="0.95" />
<circle cx="566.3" cy="215.38" r="3.75" fill="none" stroke="#000" stroke-width="1.05" />
<circle cx="566.3" cy="215.38" r="2.3" fill="none" stroke="#000" stroke-width="0.95" />
<circle cx="678.5" cy="215.38" r="3.75" fill="none" stroke="#000" stroke-width="1.05" />
<circle cx="678.5" cy="215.38" r="2.3" fill="none" stroke="#000" stroke-width="0.95" />
<circle cx="566.3" cy="229.24" r="3.75" fill="none" stroke="#000" stroke-width="1.05" />
<circle cx="566.3" cy="229.24" r="2.3" fill="none" stroke="#000" stroke-width="0.95" />
<circle cx="678.5" cy="229.24" r="3.75" fill="none" stroke="#000" stroke-width="1.05" />
<circle cx="678.5" cy="229.24" r="2.3" fill="none" stroke="#000" stroke-width="0.95" />
<circle cx="566.3" cy="243.1" r="3.75" fill="none" stroke="#000" stroke-width="1.05" />
<circle cx="566.3" cy="243.1" r="2.3" fill="none" stroke="#000" stroke-width="0.95" />
<circle cx="678.5" cy="243.1" r="3.75" fill="none" stroke="#000" stroke-width="1.05" />
<circle cx="678.5" cy="243.1" r="2.3" fill="none" stroke="#000" stroke-width="0.95" />
<circle cx="566.3" cy="256.96" r="3.75" fill="none" stroke="#000" stroke-width="1.05" />
<circle cx="566.3" cy="256.96" r="2.3" fill="none" stroke="#000" stroke-width="0.95" />
<circle cx="678.5" cy="256.96" r="3.75" fill="none" stroke="#000" stroke-width="1.05" />
<circle cx="678.5" cy="256.96" r="2.3" fill="none" stroke="#000" stroke-width="0.95" />
<line x1="547.3" y1="260.8" x2="697.5" y2="260.8" stroke="#000" stroke-width="1.6" />
<rect x="568.1" y="264" width="2.4" height="9" rx="1.2" fill="none" stroke="#000" stroke-width="0.9" />
<rect x="589.2" y="264" width="2.4" height="9" rx="1.2" fill="none" stroke="#000" stroke-width="0.9" />
<rect x="610.2" y="264" width="2.4" height="9" rx="1.2" fill="none" stroke="#000" stroke-width="0.9" />
<rect x="631.3" y="264" width="2.4" height="9" rx="1.2" fill="none" stroke="#000" stroke-width="0.9" />
<rect x="652.7" y="264" width="2.4" height="9" rx="1.2" fill="none" stroke="#000" stroke-width="0.9" />
<rect x="673.4" y="264" width="2.4" height="9" rx="1.2" fill="none" stroke="#000" stroke-width="0.9" />
<line x1="547.3" y1="275.7" x2="697.5" y2="275.7" stroke="#000" stroke-width="1.1" />
<line x1="547.3" y1="280.5" x2="697.5" y2="280.5" stroke="#000" stroke-width="1.1" />
<circle cx="566" cy="298.9" r="8.5" fill="none" stroke="#000" stroke-width="1.1" />
<circle cx="566" cy="298.9" r="5.8" fill="none" stroke="#000" stroke-width="1.2" />
<line x1="562.2" y1="298.9" x2="569.8" y2="298.9" stroke="#000" stroke-width="1.5" />
<line x1="566" y1="295" x2="566" y2="302.8" stroke="#000" stroke-width="1.5" />
<circle cx="566" cy="298.9" r="2.6" fill="none" stroke="#000" stroke-width="0.7" />
<circle cx="566" cy="321.3" r="8.5" fill="none" stroke="#000" stroke-width="1.1" />
<rect x="561.4" y="317" width="9.2" height="9" rx="3.2" fill="none" stroke="#000" stroke-width="1.1" />
<path d="M562,324.2 Q566,327.5 570,324.2" fill="none" stroke="#000" stroke-width="1.6" stroke-linejoin="round" />
<circle cx="678.5" cy="298.9" r="8.5" fill="none" stroke="#000" stroke-width="1.1" />
<circle cx="678.5" cy="298.9" r="5.8" fill="none" stroke="#000" stroke-width="1.2" />
<line x1="674.7" y1="298.9" x2="682.3" y2="298.9" stroke="#000" stroke-width="1.5" />
<line x1="678.5" y1="295" x2="678.5" y2="302.8" stroke="#000" stroke-width="1.5" />
<circle cx="678.5" cy="298.9" r="2.6" fill="none" stroke="#000" stroke-width="0.7" />
<circle cx="678.5" cy="321.3" r="8.5" fill="none" stroke="#000" stroke-width="1.1" />
<rect x="673.9" y="317" width="9.2" height="9" rx="3.2" fill="none" stroke="#000" stroke-width="1.1" />
<path d="M674.5,324.2 Q678.5,327.5 682.5,324.2" fill="none" stroke="#000" stroke-width="1.6" stroke-linejoin="round" />
<line x1="537" y1="310.2" x2="697.5" y2="310.2" stroke="#999" stroke-width="1" />
<path d="M594.7,293.2 Q622,291.6 654.6,294.2 L665.7,304.7 V317.8 L654.6,326.8 Q622,329.2 597.6,327.9 L579.2,318.4 V305.1 Q585,299 594.7,293.2 Z" fill="none" stroke="#000" stroke-width="1.1" stroke-linejoin="round" />
<text x="621.8" y="309.8" font-size="20.5" text-anchor="middle" font-weight="bold" fill="#fff" dominant-baseline="central" stroke="#000" stroke-width="1.3" textLength="48" lengthAdjust="spacingAndGlyphs">GRL</text>
<line x1="547.3" y1="339.3" x2="697.5" y2="339.3" stroke="#000" stroke-width="1.2" />
<line x1="547.3" y1="345.4" x2="697.5" y2="345.4" stroke="#000" stroke-width="1.2" />
<line x1="547.3" y1="358.7" x2="697.5" y2="358.7" stroke="#000" stroke-width="1.2" />
<line x1="579.8" y1="358.7" x2="579.8" y2="420.4" stroke="#000" stroke-width="1.1" />
<polyline points="547.3,400.4 558,411.4 558,420.4" fill="none" stroke="#000" stroke-width="1" stroke-linejoin="round" />
<line x1="558" y1="411.4" x2="579.8" y2="411.4" stroke="#000" stroke-width="1" />
<line x1="547.3" y1="413.5" x2="553.1" y2="420.4" stroke="#000" stroke-width="1" />
<line x1="547.3" y1="420.4" x2="579.8" y2="420.4" stroke="#000" stroke-width="1.2" />
<rect x="557.8" y="368.4" width="16.8" height="33.2" rx="8.4" fill="none" stroke="#000" stroke-width="1.1" />
<rect x="559.4" y="371" width="13.6" height="28.3" rx="6.8" fill="none" stroke="#000" stroke-width="0.6" />
<circle cx="566.2" cy="376" r="4.6" fill="none" stroke="#000" stroke-width="0.9" />
<rect x="562.4" y="372.5" width="7.6" height="25.4" rx="3.8" fill="none" stroke="#000" stroke-width="1" />
<circle cx="566.2" cy="382.1" r="3" fill="none" stroke="#000" stroke-width="1" />
<circle cx="566.2" cy="393.8" r="3" fill="none" stroke="#000" stroke-width="1" />
<line x1="665" y1="358.7" x2="665" y2="420.4" stroke="#000" stroke-width="1.1" />
<polyline points="697.5,400.4 686.8,411.4 686.8,420.4" fill="none" stroke="#000" stroke-width="1" stroke-linejoin="round" />
<line x1="686.8" y1="411.4" x2="665" y2="411.4" stroke="#000" stroke-width="1" />
<line x1="697.5" y1="413.5" x2="691.7" y2="420.4" stroke="#000" stroke-width="1" />
<line x1="697.5" y1="420.4" x2="665" y2="420.4" stroke="#000" stroke-width="1.2" />
<rect x="670.1" y="368.4" width="16.8" height="33.2" rx="8.4" fill="none" stroke="#000" stroke-width="1.1" />
<rect x="671.7" y="371" width="13.6" height="28.3" rx="6.8" fill="none" stroke="#000" stroke-width="0.6" />
<circle cx="678.5" cy="376" r="4.6" fill="none" stroke="#000" stroke-width="0.9" />
<rect x="674.7" y="372.5" width="7.6" height="25.4" rx="3.8" fill="none" stroke="#000" stroke-width="1" />
<circle cx="678.5" cy="382.1" r="3" fill="none" stroke="#000" stroke-width="1" />
<circle cx="678.5" cy="393.8" r="3" fill="none" stroke="#000" stroke-width="1" />
<line x1="553" y1="420.4" x2="553" y2="630.4" stroke="#000" stroke-width="1.4" />
<line x1="560.4" y1="420.4" x2="560.4" y2="630.4" stroke="#000" stroke-width="1.3" />
<line x1="574" y1="420.4" x2="574" y2="630.4" stroke="#000" stroke-width="1.6" />
<line x1="691.8" y1="420.4" x2="691.8" y2="630.4" stroke="#000" stroke-width="1.4" />
<line x1="684.4" y1="420.4" x2="684.4" y2="630.4" stroke="#000" stroke-width="1.3" />
<line x1="670.6" y1="420.4" x2="670.6" y2="630.4" stroke="#000" stroke-width="1.6" />
<polyline points="557.6,420.4 557.6,625.1 562.6,630.4" fill="none" stroke="#000" stroke-width="1.1" stroke-linejoin="round" />
<polyline points="687.2,420.4 687.2,625.1 682.2,630.4" fill="none" stroke="#000" stroke-width="1.1" stroke-linejoin="round" />
<circle cx="566.3" cy="423.8" r="3.75" fill="none" stroke="#000" stroke-width="1.05" />
<circle cx="566.3" cy="423.8" r="2.3" fill="none" stroke="#000" stroke-width="0.95" />
<circle cx="678.5" cy="423.8" r="3.75" fill="none" stroke="#000" stroke-width="1.05" />
<circle cx="678.5" cy="423.8" r="2.3" fill="none" stroke="#000" stroke-width="0.95" />
<circle cx="566.3" cy="437.67" r="3.75" fill="none" stroke="#000" stroke-width="1.05" />
<circle cx="566.3" cy="437.67" r="2.3" fill="none" stroke="#000" stroke-width="0.95" />
<circle cx="678.5" cy="437.67" r="3.75" fill="none" stroke="#000" stroke-width="1.05" />
<circle cx="678.5" cy="437.67" r="2.3" fill="none" stroke="#000" stroke-width="0.95" />
<circle cx="566.3" cy="451.54" r="3.75" fill="none" stroke="#000" stroke-width="1.05" />
<circle cx="566.3" cy="451.54" r="2.3" fill="none" stroke="#000" stroke-width="0.95" />
<circle cx="678.5" cy="451.54" r="3.75" fill="none" stroke="#000" stroke-width="1.05" />
<circle cx="678.5" cy="451.54" r="2.3" fill="none" stroke="#000" stroke-width="0.95" />
<circle cx="566.3" cy="465.41" r="3.75" fill="none" stroke="#000" stroke-width="1.05" />
<circle cx="566.3" cy="465.41" r="2.3" fill="none" stroke="#000" stroke-width="0.95" />
<circle cx="678.5" cy="465.41" r="3.75" fill="none" stroke="#000" stroke-width="1.05" />
<circle cx="678.5" cy="465.41" r="2.3" fill="none" stroke="#000" stroke-width="0.95" />
<circle cx="566.3" cy="479.28" r="3.75" fill="none" stroke="#000" stroke-width="1.05" />
<circle cx="566.3" cy="479.28" r="2.3" fill="none" stroke="#000" stroke-width="0.95" />
<circle cx="678.5" cy="479.28" r="3.75" fill="none" stroke="#000" stroke-width="1.05" />
<circle cx="678.5" cy="479.28" r="2.3" fill="none" stroke="#000" stroke-width="0.95" />
<circle cx="566.3" cy="493.15" r="3.75" fill="none" stroke="#000" stroke-width="1.05" />
<circle cx="566.3" cy="493.15" r="2.3" fill="none" stroke="#000" stroke-width="0.95" />
<circle cx="678.5" cy="493.15" r="3.75" fill="none" stroke="#000" stroke-width="1.05" />
<circle cx="678.5" cy="493.15" r="2.3" fill="none" stroke="#000" stroke-width="0.95" />
<circle cx="566.3" cy="507.02" r="3.75" fill="none" stroke="#000" stroke-width="1.05" />
<circle cx="566.3" cy="507.02" r="2.3" fill="none" stroke="#000" stroke-width="0.95" />
<circle cx="678.5" cy="507.02" r="3.75" fill="none" stroke="#000" stroke-width="1.05" />
<circle cx="678.5" cy="507.02" r="2.3" fill="none" stroke="#000" stroke-width="0.95" />
<circle cx="566.3" cy="520.89" r="3.75" fill="none" stroke="#000" stroke-width="1.05" />
<circle cx="566.3" cy="520.89" r="2.3" fill="none" stroke="#000" stroke-width="0.95" />
<circle cx="678.5" cy="520.89" r="3.75" fill="none" stroke="#000" stroke-width="1.05" />
<circle cx="678.5" cy="520.89" r="2.3" fill="none" stroke="#000" stroke-width="0.95" />
<circle cx="566.3" cy="534.76" r="3.75" fill="none" stroke="#000" stroke-width="1.05" />
<circle cx="566.3" cy="534.76" r="2.3" fill="none" stroke="#000" stroke-width="0.95" />
<circle cx="678.5" cy="534.76" r="3.75" fill="none" stroke="#000" stroke-width="1.05" />
<circle cx="678.5" cy="534.76" r="2.3" fill="none" stroke="#000" stroke-width="0.95" />
<circle cx="566.3" cy="548.63" r="3.75" fill="none" stroke="#000" stroke-width="1.05" />
<circle cx="566.3" cy="548.63" r="2.3" fill="none" stroke="#000" stroke-width="0.95" />
<circle cx="678.5" cy="548.63" r="3.75" fill="none" stroke="#000" stroke-width="1.05" />
<circle cx="678.5" cy="548.63" r="2.3" fill="none" stroke="#000" stroke-width="0.95" />
<circle cx="566.3" cy="562.5" r="3.75" fill="none" stroke="#000" stroke-width="1.05" />
<circle cx="566.3" cy="562.5" r="2.3" fill="none" stroke="#000" stroke-width="0.95" />
<circle cx="678.5" cy="562.5" r="3.75" fill="none" stroke="#000" stroke-width="1.05" />
<circle cx="678.5" cy="562.5" r="2.3" fill="none" stroke="#000" stroke-width="0.95" />
<circle cx="566.3" cy="576.37" r="3.75" fill="none" stroke="#000" stroke-width="1.05" />
<circle cx="566.3" cy="576.37" r="2.3" fill="none" stroke="#000" stroke-width="0.95" />
<circle cx="678.5" cy="576.37" r="3.75" fill="none" stroke="#000" stroke-width="1.05" />
<circle cx="678.5" cy="576.37" r="2.3" fill="none" stroke="#000" stroke-width="0.95" />
<circle cx="566.3" cy="590.24" r="3.75" fill="none" stroke="#000" stroke-width="1.05" />
<circle cx="566.3" cy="590.24" r="2.3" fill="none" stroke="#000" stroke-width="0.95" />
<circle cx="678.5" cy="590.24" r="3.75" fill="none" stroke="#000" stroke-width="1.05" />
<circle cx="678.5" cy="590.24" r="2.3" fill="none" stroke="#000" stroke-width="0.95" />
<circle cx="566.3" cy="604.11" r="3.75" fill="none" stroke="#000" stroke-width="1.05" />
<circle cx="566.3" cy="604.11" r="2.3" fill="none" stroke="#000" stroke-width="0.95" />
<circle cx="678.5" cy="604.11" r="3.75" fill="none" stroke="#000" stroke-width="1.05" />
<circle cx="678.5" cy="604.11" r="2.3" fill="none" stroke="#000" stroke-width="0.95" />
<circle cx="566.3" cy="617.98" r="3.75" fill="none" stroke="#000" stroke-width="1.05" />
<circle cx="566.3" cy="617.98" r="2.3" fill="none" stroke="#000" stroke-width="0.95" />
<circle cx="678.5" cy="617.98" r="3.75" fill="none" stroke="#000" stroke-width="1.05" />
<circle cx="678.5" cy="617.98" r="2.3" fill="none" stroke="#000" stroke-width="0.95" />
<line x1="898.1" y1="73.5" x2="1048.3" y2="73.5" stroke="#000" stroke-width="1" />
<line x1="898.1" y1="73.5" x2="898.1" y2="630.4" stroke="#000" stroke-width="1" />
<line x1="1048.3" y1="73.5" x2="1048.3" y2="630.4" stroke="#000" stroke-width="1" />
<line x1="906.4" y1="73.5" x2="906.4" y2="161.1" stroke="#111" stroke-width="1" />
<line x1="1040" y1="73.5" x2="1040" y2="161.1" stroke="#111" stroke-width="1" />
<line x1="918" y1="107.5" x2="918" y2="161.1" stroke="#000" stroke-width="1.3" />
<line x1="1027.8" y1="107.5" x2="1027.8" y2="161.1" stroke="#000" stroke-width="1.3" />
<line x1="906.4" y1="161.1" x2="918" y2="161.1" stroke="#000" stroke-width="1.3" />
<line x1="1027.8" y1="161.1" x2="1040" y2="161.1" stroke="#000" stroke-width="1.3" />
<path d="M898.1,166.6 Q901.8,162 906.8,161.3" fill="none" stroke="#000" stroke-width="1" stroke-linejoin="round" />
<path d="M1048.3,166.6 Q1044.6,162 1039.6,161.3" fill="none" stroke="#000" stroke-width="1" stroke-linejoin="round" />
<line x1="898.1" y1="174.3" x2="911.1" y2="174.3" stroke="#000" stroke-width="1.2" />
<line x1="1035.3" y1="174.3" x2="1048.3" y2="174.3" stroke="#000" stroke-width="1.2" />
<line x1="903.8" y1="174.3" x2="903.8" y2="259.8" stroke="#000" stroke-width="1.4" />
<line x1="908.4" y1="162.5" x2="908.4" y2="259.8" stroke="#000" stroke-width="1.1" />
<line x1="911.2" y1="162.5" x2="911.2" y2="259.8" stroke="#000" stroke-width="1.3" />
<line x1="1042.6" y1="174.3" x2="1042.6" y2="259.8" stroke="#000" stroke-width="1.4" />
<line x1="1038" y1="162.5" x2="1038" y2="259.8" stroke="#000" stroke-width="1.1" />
<line x1="1035.2" y1="162.5" x2="1035.2" y2="259.8" stroke="#000" stroke-width="1.3" />
<rect x="919.1" y="73.5" width="107.7" height="19.5" rx="0" fill="none" stroke="#000" stroke-width="1.2" />
<line x1="923.9" y1="73.5" x2="923.9" y2="93" stroke="#000" stroke-width="1" />
<line x1="958.2" y1="73.5" x2="958.2" y2="93" stroke="#000" stroke-width="1" />
<line x1="987.5" y1="73.5" x2="987.5" y2="93" stroke="#000" stroke-width="1" />
<line x1="1022.7" y1="73.5" x2="1022.7" y2="93" stroke="#000" stroke-width="1" />
<line x1="953.1" y1="83.4" x2="953.1" y2="93" stroke="#000" stroke-width="1.1" />
<line x1="992.9" y1="83.4" x2="992.9" y2="93" stroke="#000" stroke-width="1.1" />
<rect x="939.4" y="73.5" width="15.4" height="9.9" rx="0" fill="none" stroke="#000" stroke-width="1" />
<line x1="939.4" y1="77.4" x2="954.8" y2="77.4" stroke="#000" stroke-width="0.8" />
<line x1="942.6" y1="73.5" x2="942.6" y2="77.4" stroke="#777" stroke-width="0.8" />
<line x1="950.2" y1="73.5" x2="950.2" y2="77.4" stroke="#777" stroke-width="0.8" />
<line x1="994.3" y1="73.5" x2="994.3" y2="77.4" stroke="#777" stroke-width="0.8" />
<line x1="1002.6" y1="73.5" x2="1002.6" y2="77.4" stroke="#777" stroke-width="0.8" />
<rect x="961.8" y="73.5" width="21.5" height="6.3" rx="0" fill="none" stroke="#000" stroke-width="1" />
<line x1="962.8" y1="78.3" x2="982.3" y2="78.3" stroke="#000" stroke-width="1.6" />
<rect x="991.5" y="73.5" width="14.8" height="9.9" rx="0" fill="none" stroke="#000" stroke-width="1" />
<line x1="991.5" y1="77.4" x2="1006.3" y2="77.4" stroke="#000" stroke-width="0.8" />
<rect x="1030.3" y="83.1" width="11" height="18.7" rx="0" fill="none" stroke="#000" stroke-width="1" />
<line x1="1033.3" y1="83.1" x2="1033.3" y2="101.8" stroke="#000" stroke-width="0.7" />
<line x1="1037.3" y1="83.1" x2="1037.3" y2="101.8" stroke="#000" stroke-width="0.7" />
<line x1="919.1" y1="98.4" x2="1026.1" y2="98.4" stroke="#000" stroke-width="1.3" />
<line x1="919.1" y1="98.4" x2="917.8" y2="108.8" stroke="#000" stroke-width="1" />
<line x1="1026.1" y1="98.4" x2="1028.2" y2="108.1" stroke="#000" stroke-width="1" />
<line x1="923.9" y1="93" x2="923.9" y2="114" stroke="#000" stroke-width="1" />
<line x1="1022.7" y1="93" x2="1022.7" y2="114" stroke="#000" stroke-width="1" />
<circle cx="939.1" cy="113.6" r="11.7" fill="none" stroke="#000" stroke-width="1" />
<rect x="933.6" y="108.1" width="11" height="11" rx="0" fill="none" stroke="#000" stroke-width="1" />
<path d="M927.5,116.5 A11.7,11.7 0 0 0 950.7,116.5" fill="none" stroke="#000" stroke-width="1" stroke-linejoin="round" />
<circle cx="973.2" cy="113.6" r="11.7" fill="none" stroke="#000" stroke-width="1" />
<rect x="967.7" y="108.1" width="11" height="11" rx="0" fill="none" stroke="#000" stroke-width="1" />
<path d="M961.6,116.5 A11.7,11.7 0 0 0 984.8,116.5" fill="none" stroke="#000" stroke-width="1" stroke-linejoin="round" />
<circle cx="1008.2" cy="113.6" r="11.7" fill="none" stroke="#000" stroke-width="1" />
<rect x="1002.7" y="108.1" width="11" height="11" rx="0" fill="none" stroke="#000" stroke-width="1" />
<path d="M996.6,116.5 A11.7,11.7 0 0 0 1019.8,116.5" fill="none" stroke="#000" stroke-width="1" stroke-linejoin="round" />
<path d="M923.9,114 A16.5,16.5 0 0 0 952,124.5 Q956.1,110.5 960.3,124.5 A16.5,16.5 0 0 0 986.4,124.5 Q990.6,110.5 995,124.5 A16.5,16.5 0 0 0 1022.7,114" fill="none" stroke="#000" stroke-width="1.3" stroke-linejoin="round" />
<text x="938.6" y="137.4" font-size="8.8" text-anchor="middle" font-weight="bold" fill="#000" dominant-baseline="central" textLength="8.2" lengthAdjust="spacingAndGlyphs" stroke="#000" stroke-width="0.35">L1</text>
<text x="973.1" y="137.4" font-size="8.8" text-anchor="middle" font-weight="bold" fill="#000" dominant-baseline="central" textLength="8.2" lengthAdjust="spacingAndGlyphs" stroke="#000" stroke-width="0.35">L2</text>
<text x="1007.8" y="137.4" font-size="8.8" text-anchor="middle" font-weight="bold" fill="#000" dominant-baseline="central" textLength="8.2" lengthAdjust="spacingAndGlyphs" stroke="#000" stroke-width="0.35">L3</text>
<line x1="924.8" y1="144.4" x2="1021.4" y2="144.4" stroke="#000" stroke-width="1.4" />
<line x1="924.8" y1="144.4" x2="924.8" y2="260.5" stroke="#000" stroke-width="1.6" />
<line x1="1021.4" y1="144.4" x2="1021.4" y2="260.5" stroke="#000" stroke-width="1.6" />
<line x1="924.6" y1="183.1" x2="1021.6" y2="183.1" stroke="#000" stroke-width="1.3" />
<circle cx="917.1" cy="173.8" r="3.75" fill="none" stroke="#000" stroke-width="1.05" />
<circle cx="917.1" cy="173.8" r="2.3" fill="none" stroke="#000" stroke-width="0.95" />
<circle cx="1029.3" cy="173.8" r="3.75" fill="none" stroke="#000" stroke-width="1.05" />
<circle cx="1029.3" cy="173.8" r="2.3" fill="none" stroke="#000" stroke-width="0.95" />
<circle cx="917.1" cy="187.66" r="3.75" fill="none" stroke="#000" stroke-width="1.05" />
<circle cx="917.1" cy="187.66" r="2.3" fill="none" stroke="#000" stroke-width="0.95" />
<circle cx="1029.3" cy="187.66" r="3.75" fill="none" stroke="#000" stroke-width="1.05" />
<circle cx="1029.3" cy="187.66" r="2.3" fill="none" stroke="#000" stroke-width="0.95" />
<circle cx="917.1" cy="201.52" r="3.75" fill="none" stroke="#000" stroke-width="1.05" />
<circle cx="917.1" cy="201.52" r="2.3" fill="none" stroke="#000" stroke-width="0.95" />
<circle cx="1029.3" cy="201.52" r="3.75" fill="none" stroke="#000" stroke-width="1.05" />
<circle cx="1029.3" cy="201.52" r="2.3" fill="none" stroke="#000" stroke-width="0.95" />
<circle cx="917.1" cy="215.38" r="3.75" fill="none" stroke="#000" stroke-width="1.05" />
<circle cx="917.1" cy="215.38" r="2.3" fill="none" stroke="#000" stroke-width="0.95" />
<circle cx="1029.3" cy="215.38" r="3.75" fill="none" stroke="#000" stroke-width="1.05" />
<circle cx="1029.3" cy="215.38" r="2.3" fill="none" stroke="#000" stroke-width="0.95" />
<circle cx="917.1" cy="229.24" r="3.75" fill="none" stroke="#000" stroke-width="1.05" />
<circle cx="917.1" cy="229.24" r="2.3" fill="none" stroke="#000" stroke-width="0.95" />
<circle cx="1029.3" cy="229.24" r="3.75" fill="none" stroke="#000" stroke-width="1.05" />
<circle cx="1029.3" cy="229.24" r="2.3" fill="none" stroke="#000" stroke-width="0.95" />
<circle cx="917.1" cy="243.1" r="3.75" fill="none" stroke="#000" stroke-width="1.05" />
<circle cx="917.1" cy="243.1" r="2.3" fill="none" stroke="#000" stroke-width="0.95" />
<circle cx="1029.3" cy="243.1" r="3.75" fill="none" stroke="#000" stroke-width="1.05" />
<circle cx="1029.3" cy="243.1" r="2.3" fill="none" stroke="#000" stroke-width="0.95" />
<circle cx="917.1" cy="256.96" r="3.75" fill="none" stroke="#000" stroke-width="1.05" />
<circle cx="917.1" cy="256.96" r="2.3" fill="none" stroke="#000" stroke-width="0.95" />
<circle cx="1029.3" cy="256.96" r="3.75" fill="none" stroke="#000" stroke-width="1.05" />
<circle cx="1029.3" cy="256.96" r="2.3" fill="none" stroke="#000" stroke-width="0.95" />
<line x1="898.1" y1="260.8" x2="1048.3" y2="260.8" stroke="#000" stroke-width="1.6" />
<rect x="918.9" y="264" width="2.4" height="9" rx="1.2" fill="none" stroke="#000" stroke-width="0.9" />
<rect x="940" y="264" width="2.4" height="9" rx="1.2" fill="none" stroke="#000" stroke-width="0.9" />
<rect x="961" y="264" width="2.4" height="9" rx="1.2" fill="none" stroke="#000" stroke-width="0.9" />
<rect x="982.1" y="264" width="2.4" height="9" rx="1.2" fill="none" stroke="#000" stroke-width="0.9" />
<rect x="1003.5" y="264" width="2.4" height="9" rx="1.2" fill="none" stroke="#000" stroke-width="0.9" />
<rect x="1024.2" y="264" width="2.4" height="9" rx="1.2" fill="none" stroke="#000" stroke-width="0.9" />
<line x1="898.1" y1="275.7" x2="1048.3" y2="275.7" stroke="#000" stroke-width="1.1" />
<line x1="898.1" y1="280.5" x2="1048.3" y2="280.5" stroke="#000" stroke-width="1.1" />
<circle cx="916.8" cy="298.9" r="8.5" fill="none" stroke="#000" stroke-width="1.1" />
<circle cx="916.8" cy="298.9" r="5.8" fill="none" stroke="#000" stroke-width="1.2" />
<line x1="913" y1="298.9" x2="920.6" y2="298.9" stroke="#000" stroke-width="1.5" />
<line x1="916.8" y1="295" x2="916.8" y2="302.8" stroke="#000" stroke-width="1.5" />
<circle cx="916.8" cy="298.9" r="2.6" fill="none" stroke="#000" stroke-width="0.7" />
<circle cx="916.8" cy="321.3" r="8.5" fill="none" stroke="#000" stroke-width="1.1" />
<rect x="912.2" y="317" width="9.2" height="9" rx="3.2" fill="none" stroke="#000" stroke-width="1.1" />
<path d="M912.8,324.2 Q916.8,327.5 920.8,324.2" fill="none" stroke="#000" stroke-width="1.6" stroke-linejoin="round" />
<circle cx="1029.3" cy="298.9" r="8.5" fill="none" stroke="#000" stroke-width="1.1" />
<circle cx="1029.3" cy="298.9" r="5.8" fill="none" stroke="#000" stroke-width="1.2" />
<line x1="1025.5" y1="298.9" x2="1033.1" y2="298.9" stroke="#000" stroke-width="1.5" />
<line x1="1029.3" y1="295" x2="1029.3" y2="302.8" stroke="#000" stroke-width="1.5" />
<circle cx="1029.3" cy="298.9" r="2.6" fill="none" stroke="#000" stroke-width="0.7" />
<circle cx="1029.3" cy="321.3" r="8.5" fill="none" stroke="#000" stroke-width="1.1" />
<rect x="1024.7" y="317" width="9.2" height="9" rx="3.2" fill="none" stroke="#000" stroke-width="1.1" />
<path d="M1025.3,324.2 Q1029.3,327.5 1033.3,324.2" fill="none" stroke="#000" stroke-width="1.6" stroke-linejoin="round" />
<line x1="887.8" y1="310.2" x2="1048.3" y2="310.2" stroke="#999" stroke-width="1" />
<path d="M945.5,293.2 Q972.8,291.6 1005.4,294.2 L1016.5,304.7 V317.8 L1005.4,326.8 Q972.8,329.2 948.4,327.9 L930,318.4 V305.1 Q935.8,299 945.5,293.2 Z" fill="none" stroke="#000" stroke-width="1.1" stroke-linejoin="round" />
<text x="972.6" y="309.8" font-size="20.5" text-anchor="middle" font-weight="bold" fill="#fff" dominant-baseline="central" stroke="#000" stroke-width="1.3" textLength="48" lengthAdjust="spacingAndGlyphs">GRL</text>
<line x1="898.1" y1="339.3" x2="1048.3" y2="339.3" stroke="#000" stroke-width="1.2" />
<line x1="898.1" y1="345.4" x2="1048.3" y2="345.4" stroke="#000" stroke-width="1.2" />
<line x1="898.1" y1="358.7" x2="1048.3" y2="358.7" stroke="#000" stroke-width="1.2" />
<line x1="930.6" y1="358.7" x2="930.6" y2="420.4" stroke="#000" stroke-width="1.1" />
<polyline points="898.1,400.4 908.8,411.4 908.8,420.4" fill="none" stroke="#000" stroke-width="1" stroke-linejoin="round" />
<line x1="908.8" y1="411.4" x2="930.6" y2="411.4" stroke="#000" stroke-width="1" />
<line x1="898.1" y1="413.5" x2="903.9" y2="420.4" stroke="#000" stroke-width="1" />
<line x1="898.1" y1="420.4" x2="930.6" y2="420.4" stroke="#000" stroke-width="1.2" />
<rect x="908.6" y="368.4" width="16.8" height="33.2" rx="8.4" fill="none" stroke="#000" stroke-width="1.1" />
<rect x="910.2" y="371" width="13.6" height="28.3" rx="6.8" fill="none" stroke="#000" stroke-width="0.6" />
<circle cx="917" cy="376" r="4.6" fill="none" stroke="#000" stroke-width="0.9" />
<rect x="913.2" y="372.5" width="7.6" height="25.4" rx="3.8" fill="none" stroke="#000" stroke-width="1" />
<circle cx="917" cy="382.1" r="3" fill="none" stroke="#000" stroke-width="1" />
<circle cx="917" cy="393.8" r="3" fill="none" stroke="#000" stroke-width="1" />
<line x1="1015.8" y1="358.7" x2="1015.8" y2="420.4" stroke="#000" stroke-width="1.1" />
<polyline points="1048.3,400.4 1037.6,411.4 1037.6,420.4" fill="none" stroke="#000" stroke-width="1" stroke-linejoin="round" />
<line x1="1037.6" y1="411.4" x2="1015.8" y2="411.4" stroke="#000" stroke-width="1" />
<line x1="1048.3" y1="413.5" x2="1042.5" y2="420.4" stroke="#000" stroke-width="1" />
<line x1="1048.3" y1="420.4" x2="1015.8" y2="420.4" stroke="#000" stroke-width="1.2" />
<rect x="1020.9" y="368.4" width="16.8" height="33.2" rx="8.4" fill="none" stroke="#000" stroke-width="1.1" />
<rect x="1022.5" y="371" width="13.6" height="28.3" rx="6.8" fill="none" stroke="#000" stroke-width="0.6" />
<circle cx="1029.3" cy="376" r="4.6" fill="none" stroke="#000" stroke-width="0.9" />
<rect x="1025.5" y="372.5" width="7.6" height="25.4" rx="3.8" fill="none" stroke="#000" stroke-width="1" />
<circle cx="1029.3" cy="382.1" r="3" fill="none" stroke="#000" stroke-width="1" />
<circle cx="1029.3" cy="393.8" r="3" fill="none" stroke="#000" stroke-width="1" />
<line x1="903.8" y1="420.4" x2="903.8" y2="797.5" stroke="#000" stroke-width="1.4" />
<line x1="911.2" y1="420.4" x2="911.2" y2="797.5" stroke="#000" stroke-width="1.3" />
<line x1="924.8" y1="420.4" x2="924.8" y2="797.5" stroke="#000" stroke-width="1.6" />
<line x1="1042.6" y1="420.4" x2="1042.6" y2="797.5" stroke="#000" stroke-width="1.4" />
<line x1="1035.2" y1="420.4" x2="1035.2" y2="797.5" stroke="#000" stroke-width="1.3" />
<line x1="1021.4" y1="420.4" x2="1021.4" y2="797.5" stroke="#000" stroke-width="1.6" />
<polyline points="908.4,420.4 908.4,792.2 913.4,797.5" fill="none" stroke="#000" stroke-width="1.1" stroke-linejoin="round" />
<polyline points="1038,420.4 1038,792.2 1033,797.5" fill="none" stroke="#000" stroke-width="1.1" stroke-linejoin="round" />
<circle cx="917.1" cy="423.8" r="3.75" fill="none" stroke="#000" stroke-width="1.05" />
<circle cx="917.1" cy="423.8" r="2.3" fill="none" stroke="#000" stroke-width="0.95" />
<circle cx="1029.3" cy="423.8" r="3.75" fill="none" stroke="#000" stroke-width="1.05" />
<circle cx="1029.3" cy="423.8" r="2.3" fill="none" stroke="#000" stroke-width="0.95" />
<circle cx="917.1" cy="437.71" r="3.75" fill="none" stroke="#000" stroke-width="1.05" />
<circle cx="917.1" cy="437.71" r="2.3" fill="none" stroke="#000" stroke-width="0.95" />
<circle cx="1029.3" cy="437.71" r="3.75" fill="none" stroke="#000" stroke-width="1.05" />
<circle cx="1029.3" cy="437.71" r="2.3" fill="none" stroke="#000" stroke-width="0.95" />
<circle cx="917.1" cy="451.62" r="3.75" fill="none" stroke="#000" stroke-width="1.05" />
<circle cx="917.1" cy="451.62" r="2.3" fill="none" stroke="#000" stroke-width="0.95" />
<circle cx="1029.3" cy="451.62" r="3.75" fill="none" stroke="#000" stroke-width="1.05" />
<circle cx="1029.3" cy="451.62" r="2.3" fill="none" stroke="#000" stroke-width="0.95" />
<circle cx="917.1" cy="465.53" r="3.75" fill="none" stroke="#000" stroke-width="1.05" />
<circle cx="917.1" cy="465.53" r="2.3" fill="none" stroke="#000" stroke-width="0.95" />
<circle cx="1029.3" cy="465.53" r="3.75" fill="none" stroke="#000" stroke-width="1.05" />
<circle cx="1029.3" cy="465.53" r="2.3" fill="none" stroke="#000" stroke-width="0.95" />
<circle cx="917.1" cy="479.44" r="3.75" fill="none" stroke="#000" stroke-width="1.05" />
<circle cx="917.1" cy="479.44" r="2.3" fill="none" stroke="#000" stroke-width="0.95" />
<circle cx="1029.3" cy="479.44" r="3.75" fill="none" stroke="#000" stroke-width="1.05" />
<circle cx="1029.3" cy="479.44" r="2.3" fill="none" stroke="#000" stroke-width="0.95" />
<circle cx="917.1" cy="493.35" r="3.75" fill="none" stroke="#000" stroke-width="1.05" />
<circle cx="917.1" cy="493.35" r="2.3" fill="none" stroke="#000" stroke-width="0.95" />
<circle cx="1029.3" cy="493.35" r="3.75" fill="none" stroke="#000" stroke-width="1.05" />
<circle cx="1029.3" cy="493.35" r="2.3" fill="none" stroke="#000" stroke-width="0.95" />
<circle cx="917.1" cy="507.26" r="3.75" fill="none" stroke="#000" stroke-width="1.05" />
<circle cx="917.1" cy="507.26" r="2.3" fill="none" stroke="#000" stroke-width="0.95" />
<circle cx="1029.3" cy="507.26" r="3.75" fill="none" stroke="#000" stroke-width="1.05" />
<circle cx="1029.3" cy="507.26" r="2.3" fill="none" stroke="#000" stroke-width="0.95" />
<circle cx="917.1" cy="521.17" r="3.75" fill="none" stroke="#000" stroke-width="1.05" />
<circle cx="917.1" cy="521.17" r="2.3" fill="none" stroke="#000" stroke-width="0.95" />
<circle cx="1029.3" cy="521.17" r="3.75" fill="none" stroke="#000" stroke-width="1.05" />
<circle cx="1029.3" cy="521.17" r="2.3" fill="none" stroke="#000" stroke-width="0.95" />
<circle cx="917.1" cy="535.08" r="3.75" fill="none" stroke="#000" stroke-width="1.05" />
<circle cx="917.1" cy="535.08" r="2.3" fill="none" stroke="#000" stroke-width="0.95" />
<circle cx="1029.3" cy="535.08" r="3.75" fill="none" stroke="#000" stroke-width="1.05" />
<circle cx="1029.3" cy="535.08" r="2.3" fill="none" stroke="#000" stroke-width="0.95" />
<circle cx="917.1" cy="548.99" r="3.75" fill="none" stroke="#000" stroke-width="1.05" />
<circle cx="917.1" cy="548.99" r="2.3" fill="none" stroke="#000" stroke-width="0.95" />
<circle cx="1029.3" cy="548.99" r="3.75" fill="none" stroke="#000" stroke-width="1.05" />
<circle cx="1029.3" cy="548.99" r="2.3" fill="none" stroke="#000" stroke-width="0.95" />
<circle cx="917.1" cy="562.9" r="3.75" fill="none" stroke="#000" stroke-width="1.05" />
<circle cx="917.1" cy="562.9" r="2.3" fill="none" stroke="#000" stroke-width="0.95" />
<circle cx="1029.3" cy="562.9" r="3.75" fill="none" stroke="#000" stroke-width="1.05" />
<circle cx="1029.3" cy="562.9" r="2.3" fill="none" stroke="#000" stroke-width="0.95" />
<circle cx="917.1" cy="576.81" r="3.75" fill="none" stroke="#000" stroke-width="1.05" />
<circle cx="917.1" cy="576.81" r="2.3" fill="none" stroke="#000" stroke-width="0.95" />
<circle cx="1029.3" cy="576.81" r="3.75" fill="none" stroke="#000" stroke-width="1.05" />
<circle cx="1029.3" cy="576.81" r="2.3" fill="none" stroke="#000" stroke-width="0.95" />
<circle cx="917.1" cy="590.72" r="3.75" fill="none" stroke="#000" stroke-width="1.05" />
<circle cx="917.1" cy="590.72" r="2.3" fill="none" stroke="#000" stroke-width="0.95" />
<circle cx="1029.3" cy="590.72" r="3.75" fill="none" stroke="#000" stroke-width="1.05" />
<circle cx="1029.3" cy="590.72" r="2.3" fill="none" stroke="#000" stroke-width="0.95" />
<circle cx="917.1" cy="604.63" r="3.75" fill="none" stroke="#000" stroke-width="1.05" />
<circle cx="917.1" cy="604.63" r="2.3" fill="none" stroke="#000" stroke-width="0.95" />
<circle cx="1029.3" cy="604.63" r="3.75" fill="none" stroke="#000" stroke-width="1.05" />
<circle cx="1029.3" cy="604.63" r="2.3" fill="none" stroke="#000" stroke-width="0.95" />
<circle cx="917.1" cy="618.54" r="3.75" fill="none" stroke="#000" stroke-width="1.05" />
<circle cx="917.1" cy="618.54" r="2.3" fill="none" stroke="#000" stroke-width="0.95" />
<circle cx="1029.3" cy="618.54" r="3.75" fill="none" stroke="#000" stroke-width="1.05" />
<circle cx="1029.3" cy="618.54" r="2.3" fill="none" stroke="#000" stroke-width="0.95" />
<circle cx="917.1" cy="632.45" r="3.75" fill="none" stroke="#000" stroke-width="1.05" />
<circle cx="917.1" cy="632.45" r="2.3" fill="none" stroke="#000" stroke-width="0.95" />
<circle cx="1029.3" cy="632.45" r="3.75" fill="none" stroke="#000" stroke-width="1.05" />
<circle cx="1029.3" cy="632.45" r="2.3" fill="none" stroke="#000" stroke-width="0.95" />
<circle cx="917.1" cy="646.36" r="3.75" fill="none" stroke="#000" stroke-width="1.05" />
<circle cx="917.1" cy="646.36" r="2.3" fill="none" stroke="#000" stroke-width="0.95" />
<circle cx="1029.3" cy="646.36" r="3.75" fill="none" stroke="#000" stroke-width="1.05" />
<circle cx="1029.3" cy="646.36" r="2.3" fill="none" stroke="#000" stroke-width="0.95" />
<circle cx="917.1" cy="660.27" r="3.75" fill="none" stroke="#000" stroke-width="1.05" />
<circle cx="917.1" cy="660.27" r="2.3" fill="none" stroke="#000" stroke-width="0.95" />
<circle cx="1029.3" cy="660.27" r="3.75" fill="none" stroke="#000" stroke-width="1.05" />
<circle cx="1029.3" cy="660.27" r="2.3" fill="none" stroke="#000" stroke-width="0.95" />
<circle cx="917.1" cy="674.18" r="3.75" fill="none" stroke="#000" stroke-width="1.05" />
<circle cx="917.1" cy="674.18" r="2.3" fill="none" stroke="#000" stroke-width="0.95" />
<circle cx="1029.3" cy="674.18" r="3.75" fill="none" stroke="#000" stroke-width="1.05" />
<circle cx="1029.3" cy="674.18" r="2.3" fill="none" stroke="#000" stroke-width="0.95" />
<circle cx="917.1" cy="688.09" r="3.75" fill="none" stroke="#000" stroke-width="1.05" />
<circle cx="917.1" cy="688.09" r="2.3" fill="none" stroke="#000" stroke-width="0.95" />
<circle cx="1029.3" cy="688.09" r="3.75" fill="none" stroke="#000" stroke-width="1.05" />
<circle cx="1029.3" cy="688.09" r="2.3" fill="none" stroke="#000" stroke-width="0.95" />
<circle cx="917.1" cy="702" r="3.75" fill="none" stroke="#000" stroke-width="1.05" />
<circle cx="917.1" cy="702" r="2.3" fill="none" stroke="#000" stroke-width="0.95" />
<circle cx="1029.3" cy="702" r="3.75" fill="none" stroke="#000" stroke-width="1.05" />
<circle cx="1029.3" cy="702" r="2.3" fill="none" stroke="#000" stroke-width="0.95" />
<circle cx="917.1" cy="715.91" r="3.75" fill="none" stroke="#000" stroke-width="1.05" />
<circle cx="917.1" cy="715.91" r="2.3" fill="none" stroke="#000" stroke-width="0.95" />
<circle cx="1029.3" cy="715.91" r="3.75" fill="none" stroke="#000" stroke-width="1.05" />
<circle cx="1029.3" cy="715.91" r="2.3" fill="none" stroke="#000" stroke-width="0.95" />
<circle cx="917.1" cy="729.82" r="3.75" fill="none" stroke="#000" stroke-width="1.05" />
<circle cx="917.1" cy="729.82" r="2.3" fill="none" stroke="#000" stroke-width="0.95" />
<circle cx="1029.3" cy="729.82" r="3.75" fill="none" stroke="#000" stroke-width="1.05" />
<circle cx="1029.3" cy="729.82" r="2.3" fill="none" stroke="#000" stroke-width="0.95" />
<circle cx="917.1" cy="743.73" r="3.75" fill="none" stroke="#000" stroke-width="1.05" />
<circle cx="917.1" cy="743.73" r="2.3" fill="none" stroke="#000" stroke-width="0.95" />
<circle cx="1029.3" cy="743.73" r="3.75" fill="none" stroke="#000" stroke-width="1.05" />
<circle cx="1029.3" cy="743.73" r="2.3" fill="none" stroke="#000" stroke-width="0.95" />
<circle cx="917.1" cy="757.64" r="3.75" fill="none" stroke="#000" stroke-width="1.05" />
<circle cx="917.1" cy="757.64" r="2.3" fill="none" stroke="#000" stroke-width="0.95" />
<circle cx="1029.3" cy="757.64" r="3.75" fill="none" stroke="#000" stroke-width="1.05" />
<circle cx="1029.3" cy="757.64" r="2.3" fill="none" stroke="#000" stroke-width="0.95" />
<circle cx="917.1" cy="771.55" r="3.75" fill="none" stroke="#000" stroke-width="1.05" />
<circle cx="917.1" cy="771.55" r="2.3" fill="none" stroke="#000" stroke-width="0.95" />
<circle cx="1029.3" cy="771.55" r="3.75" fill="none" stroke="#000" stroke-width="1.05" />
<circle cx="1029.3" cy="771.55" r="2.3" fill="none" stroke="#000" stroke-width="0.95" />
<circle cx="917.1" cy="785.46" r="3.75" fill="none" stroke="#000" stroke-width="1.05" />
<circle cx="917.1" cy="785.46" r="2.3" fill="none" stroke="#000" stroke-width="0.95" />
<circle cx="1029.3" cy="785.46" r="3.75" fill="none" stroke="#000" stroke-width="1.05" />
<circle cx="1029.3" cy="785.46" r="2.3" fill="none" stroke="#000" stroke-width="0.95" />
<line x1="547.3" y1="630.4" x2="697.5" y2="630.4" stroke="#000" stroke-width="1.2" />
<rect x="588.5" y="618.1" width="16.1" height="6.2" rx="0" fill="none" stroke="#000" stroke-width="1.3" />
<polyline points="588.5,624.3 588.5,629.8" fill="none" stroke="#000" stroke-width="1" stroke-linejoin="round" />
<polyline points="588.5,626.3 592.7,626.3 592.7,629.8" fill="none" stroke="#000" stroke-width="1.2" stroke-linejoin="round" />
<polyline points="599.5,629.8 599.5,626.3 604.6,626.3" fill="none" stroke="#000" stroke-width="1.2" stroke-linejoin="round" />
<rect x="639.2" y="618.1" width="17.1" height="6.2" rx="0" fill="none" stroke="#000" stroke-width="1.3" />
<polyline points="656.3,624.3 656.3,629.8" fill="none" stroke="#000" stroke-width="1" stroke-linejoin="round" />
<polyline points="656.3,626.3 652.1,626.3 652.1,629.8" fill="none" stroke="#000" stroke-width="1.2" stroke-linejoin="round" />
<polyline points="645.3,629.8 645.3,626.3 639.2,626.3" fill="none" stroke="#000" stroke-width="1.2" stroke-linejoin="round" />
<line x1="604.6" y1="621.4" x2="639.2" y2="621.4" stroke="#000" stroke-width="1.1" />
<line x1="609.5" y1="621.4" x2="609.5" y2="629.8" stroke="#000" stroke-width="0.9" />
<line x1="635.3" y1="621.4" x2="635.3" y2="629.8" stroke="#000" stroke-width="0.9" />
<line x1="610.8" y1="622" x2="610.8" y2="629.8" stroke="#000" stroke-width="1.1" />
<line x1="634" y1="622" x2="634" y2="629.8" stroke="#000" stroke-width="1.1" />
<line x1="610.8" y1="622.7" x2="634" y2="622.7" stroke="#555" stroke-width="1.8" />
<line x1="610.8" y1="625.2" x2="634" y2="625.2" stroke="#000" stroke-width="1" />
<line x1="547.3" y1="630.4" x2="547.3" y2="710" stroke="#8a8a8a" stroke-width="1" />
<line x1="697.5" y1="630.4" x2="697.5" y2="710" stroke="#8a8a8a" stroke-width="1" />
<line x1="547.3" y1="698.6" x2="697.5" y2="698.6" stroke="#5a5a5a" stroke-width="1" />
<polygon points="547.3,698.6 554.3,696.5 554.3,700.7" fill="#000" stroke="none"/>
<polygon points="697.5,698.6 690.5,696.5 690.5,700.7" fill="#000" stroke="none"/>
<text x="0" y="0" font-size="21.9" text-anchor="middle" font-weight="normal" fill="#000" dominant-baseline="central" transform="translate(622 686.9) scale(0.9452 1)" stroke="#fff" stroke-width="0.4">45/54</text>
<line x1="697.5" y1="25.5" x2="697.5" y2="73.5" stroke="#5a5a5a" stroke-width="1" />
<line x1="721.5" y1="25.5" x2="721.5" y2="73.5" stroke="#5a5a5a" stroke-width="1" />
<line x1="674" y1="35.2" x2="749.6" y2="35.2" stroke="#5a5a5a" stroke-width="1" />
<polygon points="697.5,35.2 690.5,33.1 690.5,37.3" fill="#000" stroke="none"/>
<polygon points="721.5,35.2 728.5,33.1 728.5,37.3" fill="#000" stroke="none"/>
<text x="0" y="0" font-size="21.9" text-anchor="middle" font-weight="normal" fill="#000" dominant-baseline="central" transform="translate(737 22.7) scale(0.9452 1)" stroke="#fff" stroke-width="0.4">9</text>
<line x1="721.5" y1="73.5" x2="721.5" y2="630.4" stroke="#000" stroke-width="1.2" stroke-dasharray="3,2.5"/>
<line x1="697.5" y1="167.5" x2="721.5" y2="167.5" stroke="#333" stroke-width="1" stroke-dasharray="3,2.5"/>
<line x1="697.5" y1="174.3" x2="721.5" y2="174.3" stroke="#000" stroke-width="1" stroke-dasharray="3,2.5"/>
<line x1="697.5" y1="73.5" x2="829.5" y2="73.5" stroke="#5a5a5a" stroke-width="1" />
<line x1="697.5" y1="630.4" x2="829" y2="630.4" stroke="#5a5a5a" stroke-width="1" />
<line x1="697.5" y1="310.2" x2="777" y2="310.2" stroke="#999" stroke-width="1" />
<line x1="765.5" y1="73.5" x2="765.5" y2="310.2" stroke="#000" stroke-width="1" />
<polygon points="765.5,73.5 763.4,80.5 767.6,80.5" fill="#000" stroke="none"/>
<polygon points="765.5,310.2 763.4,303.2 767.6,303.2" fill="#000" stroke="none"/>
<text x="0" y="0" font-size="21.9" text-anchor="middle" font-weight="normal" fill="#000" dominant-baseline="central" transform="translate(752.7 192) rotate(-90) scale(0.9452 1)" stroke="#fff" stroke-width="0.4">85</text>
<line x1="818.7" y1="73.5" x2="818.7" y2="630.4" stroke="#5a5a5a" stroke-width="1" />
<polygon points="818.7,73.5 816.6,80.5 820.8,80.5" fill="#000" stroke="none"/>
<polygon points="818.7,630.4 816.6,623.4 820.8,623.4" fill="#000" stroke="none"/>
<text x="0" y="0" font-size="21.9" text-anchor="middle" font-weight="normal" fill="#000" dominant-baseline="central" transform="translate(805.4 351.7) rotate(-90) scale(0.9452 1)" stroke="#fff" stroke-width="0.4">200</text>
<line x1="898.1" y1="630" x2="904" y2="630" stroke="#000" stroke-width="1.2" />
<line x1="1047.7" y1="630" x2="1041.6" y2="630" stroke="#000" stroke-width="1.2" />
<path d="M904.6,797.5 H939.7 V786.5 H956 V790 H990.3 V786.5 H1007.5 V797.5 H1040.5" fill="none" stroke="#000" stroke-width="1.1" stroke-linejoin="round" />
<line x1="898.1" y1="630" x2="898.1" y2="858" stroke="#8a8a8a" stroke-width="1" />
<line x1="1047.7" y1="630" x2="1047.7" y2="858" stroke="#8a8a8a" stroke-width="1" />
<line x1="898.1" y1="847.2" x2="1047.7" y2="847.2" stroke="#5a5a5a" stroke-width="1" />
<polygon points="898.1,847.2 905.1,845.1 905.1,849.3" fill="#000" stroke="none"/>
<polygon points="1047.7,847.2 1040.7,845.1 1040.7,849.3" fill="#000" stroke="none"/>
<text x="0" y="0" font-size="21.9" text-anchor="middle" font-weight="normal" fill="#000" dominant-baseline="central" transform="translate(970 834.8) scale(0.9452 1)" stroke="#fff" stroke-width="0.4">45/54</text>
<line x1="1047.7" y1="73.5" x2="1167.4" y2="73.5" stroke="#5a5a5a" stroke-width="1" />
<line x1="1047.7" y1="797.5" x2="1167" y2="797.5" stroke="#5a5a5a" stroke-width="1" />
<line x1="1016" y1="310.2" x2="1117" y2="310.2" stroke="#999" stroke-width="1" />
<line x1="1105.9" y1="73.5" x2="1105.9" y2="309.8" stroke="#5a5a5a" stroke-width="1" />
<polygon points="1105.9,73.5 1103.8,80.5 1108,80.5" fill="#000" stroke="none"/>
<polygon points="1105.9,309.8 1103.8,302.8 1108,302.8" fill="#000" stroke="none"/>
<text x="0" y="0" font-size="21.9" text-anchor="middle" font-weight="normal" fill="#000" dominant-baseline="central" transform="translate(1094.1 192) rotate(-90) scale(0.9452 1)" stroke="#fff" stroke-width="0.4">85</text>
<line x1="1154.5" y1="73.5" x2="1154.5" y2="797.5" stroke="#5a5a5a" stroke-width="1" />
<polygon points="1154.5,73.5 1152.4,80.5 1156.6,80.5" fill="#000" stroke="none"/>
<polygon points="1154.5,797.5 1152.4,790.5 1156.6,790.5" fill="#000" stroke="none"/>
<text x="0" y="0" font-size="21.9" text-anchor="middle" font-weight="normal" fill="#000" dominant-baseline="central" transform="translate(1142 436.5) rotate(-90) scale(0.9452 1)" stroke="#fff" stroke-width="0.4">261</text>
</svg>
</body></html>
